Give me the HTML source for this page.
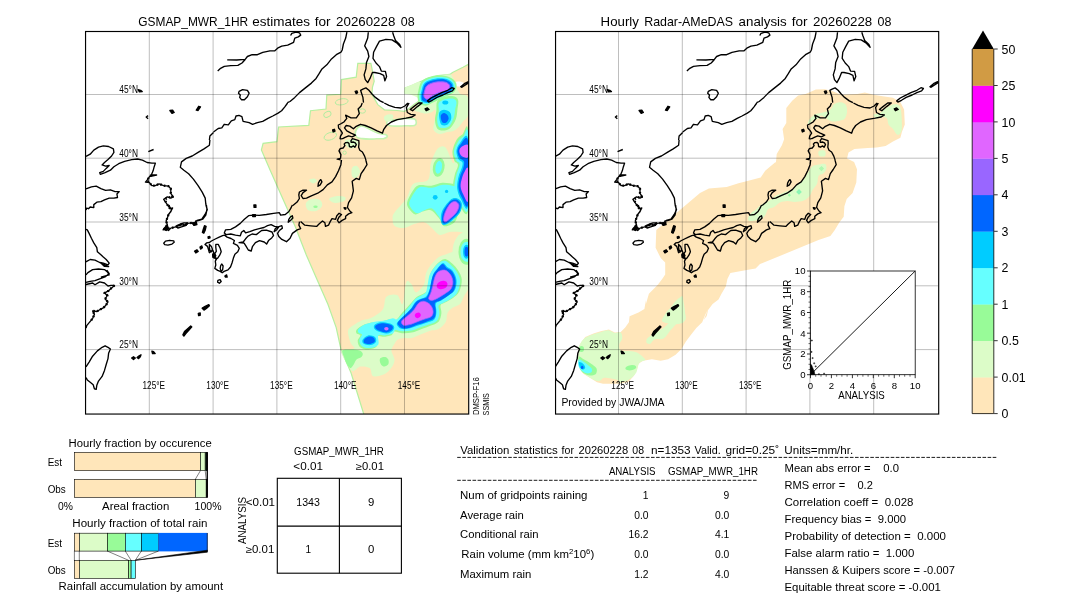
<!DOCTYPE html>
<html><head><meta charset="utf-8"><title>GSMAP validation</title>
<style>html,body{margin:0;padding:0;background:#fff}svg{display:block;will-change:transform}text{font-family:"Liberation Sans",sans-serif}</style></head>
<body>
<svg width="1080" height="612" viewBox="0 0 1080 612">
<rect width="1080" height="612" fill="#fff"/>
<defs><clipPath id="mc"><rect x="85.55" y="31.5" width="383.15" height="382.55"/></clipPath>
<g id="coast"><path d="M217.7 70.9 L220.1 68.7 L224.3 66.3 L230.8 65.6 L237.9 65.4 L242.0 63.0 L245.0 59.7 L247.4 56.5 L252.1 54.7 L257.4 54.7 L262.8 52.3 L269.9 50.8 L274.6 50.9 L277.6 48.2 L281.7 46.2 L287.7 45.2 L293.6 42.3 L294.8 38.1 L298.3 36.9 L300.7 35.1 L299.5 32.8 L296.0 32.2 L291.8 33.4 L290.6 35.5 M227.2 59.8 L236.7 60.0 L245.0 59.4 M341.0 52.1 L336.3 54.7 L331.5 58.9 L326.8 64.8 L322.0 68.9 L319.1 73.7 L316.1 78.4 L311.4 83.1 L305.4 87.9 L299.5 92.6 L294.8 97.4 L290.0 101.5 L287.4 102.7 M239.1 91.4 L242.6 89.7 L247.4 90.3 L249.1 93.2 L247.4 96.8 L244.4 99.7 L241.4 99.7 L239.7 97.4 L240.3 95.0 L238.5 93.2Z M368.3 32.2 L367.7 38.1 L364.7 45.8 L367.7 51.1 L368.9 56.5 L366.5 62.4 L365.9 68.9 L364.1 74.9 L365.3 79.6 L367.7 82.6 L370.0 78.4 L372.4 72.5 L374.8 72.5 L380.1 73.7 L383.7 75.4 L384.9 80.8 L386.6 76.6 L385.4 71.3 L381.3 71.1 L379.5 66.6 L376.0 63.0 L373.0 58.3 L373.6 52.3 L376.6 46.4 L379.5 41.1 L386.0 39.3 L392.0 39.9 L396.7 42.9 L400.9 47.2 L399.7 44.6 L395.5 40.5 L393.7 35.7 L392.6 32.2 M346.9 32.2 L345.7 38.1 L343.4 44.0 L342.2 50.0 L341.0 52.3 M363.5 102.7 L362.9 97.4 L361.7 93.8 L360.6 90.3 L362.9 89.1 L365.9 87.9 L368.9 90.3 L371.8 93.8 L375.4 97.4 L380.1 100.9 L383.7 102.7 M427.5 100.9 L431.1 98.0 L435.8 95.6 L441.7 92.6 L447.7 90.3 L451.8 87.7 L454.2 88.5 L452.4 90.9 L447.7 92.6 L442.9 95.0 L437.0 97.4 L432.3 100.3 L428.7 102.1Z M460.7 86.7 L464.3 83.7 L468.4 81.7 L469.0 82.6 L465.4 84.9 L461.9 87.3Z M362.2 103.0 L361.1 106.0 L358.1 108.9 L359.3 113.7 L356.3 117.8 L351.0 117.8 L345.6 115.2 L346.8 118.4 L343.9 122.0 L341.5 123.4 M384.2 103.0 L388.9 105.4 L394.8 107.4 L400.8 108.0 L404.9 106.0 L407.9 103.0 M410.2 109.5 L413.8 106.6 L418.5 103.0 L422.1 103.0 L417.4 106.6 L412.6 110.7Z M409.1 103.0 L406.4 107.7 L407.3 112.5 L410.8 114.3 L415.2 114.9 L412.0 117.0 L406.1 118.2 L397.2 119.6 L391.3 122.0 L386.5 125.5 L383.6 129.7 L382.4 133.2 L377.1 130.9 L371.1 127.9 L365.2 125.5 L360.5 124.3 L355.7 126.7 L353.4 128.8 L349.8 126.1 L346.2 125.5 L344.5 127.9 L346.8 130.9 L351.0 133.2 L355.5 135.2 L352.2 136.8 L348.6 135.9 L345.1 137.4 L342.7 138.6 L341.5 138.6 M287.6 103.0 L284.6 107.1 L281.6 110.7 L278.1 113.1 L272.8 116.0 L268.0 118.4 L262.7 121.4 L257.4 122.6 L252.6 124.3 L249.1 122.6 L243.1 121.4 L241.9 116.6 L239.0 115.4 L236.0 116.0 L234.8 119.6 L231.3 120.8 L228.3 124.9 L224.2 124.3 L221.8 127.9 L218.2 128.5 L213.5 132.0 M341.5 160.0 L340.9 164.7 L338.5 170.7 L335.6 176.6 L332.0 181.9 L327.3 184.9 L323.1 189.6 L317.8 193.2 L311.9 195.6 L306.5 198.2 L303.0 198.5 L301.2 195.6 L303.0 192.6 L306.5 190.2 L303.0 190.2 L299.4 192.0 L298.8 195.0 L299.4 198.5 L297.1 202.1 L292.9 205.6 M320.8 179.6 L321.9 181.9 L320.2 184.9 L318.0 186.3 L318.4 183.1 L319.6 180.7Z M365.8 160.0 L367.0 164.7 L364.0 169.5 L361.1 173.6 L359.3 179.6 L356.3 178.4 L352.2 181.3 L352.8 186.1 L353.4 190.8 L351.6 197.9 L348.6 202.7 L347.4 207.4 L349.8 211.0 L351.9 212.7 L348.6 213.9 L345.6 216.3 L345.6 218.7 L342.1 220.4 L339.1 222.8 L337.4 220.4 L339.1 216.9 L341.5 214.5 L339.1 213.3 L336.8 215.7 L335.6 219.3 L332.0 218.7 L330.2 221.6 L328.5 225.2 L325.5 226.4 L324.9 222.8 L322.5 221.0 L319.0 224.0 L316.6 226.4 L310.7 225.8 L304.8 225.2 L300.6 221.6 M292.3 215.7 L292.9 218.1 L290.5 220.4 L288.2 222.2 L288.8 219.3 L290.5 216.9Z M341.5 123.5 L338.3 125.0 L338.6 128.0 L340.9 130.6 L342.4 133.1 L340.5 136.1 L340.1 138.7 L341.5 139.1 M340.5 159.8 L337.2 159.2 L340.5 158.3 L340.9 154.6 L339.0 150.9 L340.1 148.7 L343.1 148.0 L344.9 145.7 L344.2 143.9 L345.7 142.6 L347.9 142.4 L349.0 143.5 L349.4 146.5 L351.2 147.2 L353.5 145.9 L354.9 147.2 L356.3 144.6 L355.3 142.8 L353.1 142.0 L351.2 142.4 L350.9 140.9 L352.4 138.7 L354.9 139.4 L358.8 140.6 L359.0 143.5 L358.6 147.2 L359.8 150.2 L362.4 152.0 L364.6 156.1 L366.1 160.6 M292.4 205.0 L290.6 208.6 L288.9 211.5 L285.3 214.5 L280.6 215.1 L279.4 212.7 L273.5 213.3 L266.4 214.5 L259.2 215.4 L253.3 215.1 L248.6 215.7 L244.4 219.2 L240.3 223.4 L235.5 226.9 L230.8 229.3 L225.5 229.9 L224.3 232.9 L226.1 234.6 L230.8 234.0 L235.5 235.2 L240.3 235.8 L241.5 232.3 L243.8 230.5 L245.6 232.9 L249.8 231.7 L254.5 229.9 L259.2 228.7 L264.0 227.5 L267.5 225.7 L271.1 224.6 L274.6 226.3 L278.2 226.9 L281.8 225.7 L282.4 228.1 L279.4 230.5 L277.6 233.4 L278.8 236.4 L281.8 239.4 L286.5 241.7 L290.1 238.2 L292.4 233.4 L297.2 229.9 L300.7 228.7 L298.9 225.1 L299.5 221.6 M239.1 242.7 L243.2 242.0 L245.6 238.8 L248.0 236.1 L252.1 234.0 L256.3 234.6 L259.0 232.5 L261.6 230.5 L266.4 230.2 L272.0 232.0 L273.5 235.6 L271.7 237.9 L268.5 240.6 L266.6 244.1 L264.2 242.0 L259.5 240.6 L255.4 242.7 L252.4 246.7 L251.2 251.0 L248.3 250.0 L246.0 246.2 L244.1 243.2Z M278.8 226.9 L276.8 229.7 L274.1 231.7 L275.2 228.7 L277.4 227.0Z M224.6 235.1 L227.1 237.1 L231.0 238.5 L234.4 240.5 L233.4 243.4 L237.4 245.4 L239.3 248.3 L237.8 251.8 L234.9 254.2 L233.4 258.1 L232.0 263.0 L230.5 267.0 L228.0 269.9 L224.1 271.4 L222.2 272.8 L220.2 271.4 L217.7 270.4 L214.8 268.4 L215.8 265.0 L215.3 261.1 L216.8 258.6 L214.3 257.2 L212.8 255.2 L213.8 252.7 L212.8 250.3 L209.4 252.7 L208.4 249.3 L207.5 246.4 L205.0 244.4 L206.5 242.9 L209.4 242.5 L211.4 241.0 L215.3 239.0 L219.2 237.1 L222.6 235.6Z M215.8 244.4 L218.2 244.4 L220.2 248.3 L221.2 251.8 L219.7 255.2 L217.7 258.1 L215.8 259.1 L214.3 257.2 L214.3 254.2 L216.3 251.3 L215.8 247.4Z M221.7 264.0 L223.1 266.0 L222.6 269.9 L221.2 271.4 L220.2 268.4 L220.7 265.5Z M209.4 244.4 L211.4 246.4 L212.4 249.3 L211.4 251.8 L209.9 250.3 L209.4 247.4Z M205.9 205.0 L207.3 209.7 L205.0 214.5 L201.8 219.2 L197.0 220.4 L195.8 224.0 L193.5 224.6 L191.7 222.8 L190.5 223.4 M86.0 156.4 L90.2 154.2 L93.8 150.1 L98.5 147.1 L103.3 145.9 L108.6 146.5 L113.4 148.9 L113.9 152.4 L111.6 156.0 L108.0 159.6 L104.5 162.5 L102.1 164.9 L105.6 166.1 L109.2 165.5 L106.2 168.4 L103.3 171.4 L99.7 172.6 L100.3 174.4 L105.1 172.6 L110.4 170.2 L113.9 166.7 L118.7 163.7 L124.6 161.3 L131.7 159.6 L137.6 159.0 L142.4 160.1 L147.1 162.5 L151.9 163.1 L155.4 163.1 L154.2 166.7 L153.1 170.8 L151.3 175.0 L156.6 175.0 L149.5 176.7 L147.1 180.3 L145.4 182.1 L149.5 182.7 L151.9 185.6 L155.4 185.6 L159.0 183.9 L163.7 185.6 L168.5 186.2 L170.8 188.6 L170.8 193.3 L173.2 196.9 L170.8 198.1 L167.3 196.9 L163.7 199.3 L166.1 202.8 L168.5 206.4 L171.4 209.3 L170.8 212.1 M148.3 151.6 L153.6 149.5 M209.9 140.0 L209.4 145.3 L204.0 148.9 L198.1 152.4 L192.2 156.0 L186.2 158.4 L181.5 161.9 L180.3 167.3 L183.9 170.2 L188.6 173.8 L193.4 179.1 L198.1 185.6 L202.2 192.1 L205.2 198.1 L205.8 204.0 L207.0 208.7 L206.4 212.1 M86.0 188.8 L91.4 186.8 L96.2 186.2 L100.9 188.6 L105.6 190.4 L110.4 189.8 L115.1 191.6 L119.3 191.6 L116.9 193.9 L117.5 197.5 L113.9 198.1 L109.2 198.1 L104.5 199.9 L100.9 201.6 L96.8 202.2 L93.8 204.6 L93.8 207.6 L90.2 207.0 L88.5 208.7 L86.7 208.1 L86.0 209.9 M169.1 205.0 L170.2 208.6 L172.6 208.0 L170.8 211.5 L168.5 214.5 L167.3 218.0 L166.1 221.0 L167.3 224.6 L164.9 228.7 L163.1 229.9 L166.7 229.3 L168.5 230.5 L170.8 228.1 L175.6 226.9 L180.3 225.1 L185.1 224.6 L187.4 223.4 L192.2 222.8 L195.1 224.6 L195.7 221.0 L199.3 220.4 L202.8 219.2 L205.8 215.1 L207.0 209.7 L206.4 205.0 M176.8 225.7 L180.3 224.0 L183.9 222.8 L187.4 222.8 L186.2 225.4 L181.5 226.9 L177.9 228.1Z M163.7 243.2 L165.5 241.1 L169.6 240.3 L173.8 240.8 L174.2 242.3 L172.0 244.1 L167.9 245.1 L164.7 244.7Z M86.0 229.3 L87.3 229.9 L89.1 233.4 L91.4 238.2 L93.8 242.9 L96.8 247.7 L97.4 251.8 L100.9 254.8 L103.3 257.1 L106.2 259.5 L109.2 263.1 L108.0 264.9 L103.3 263.1 L99.7 262.5 L95.0 260.1 L90.2 259.5 L86.7 261.3 L86.0 261.9 M86.0 274.9 L87.9 272.6 L92.6 269.6 L98.5 269.0 L104.5 269.6 L107.4 272.0 L109.2 274.9 L104.5 276.1 L100.9 277.1 M106.8 270.0 L109.2 273.6 L105.6 276.5 L99.7 278.9 L95.0 280.7 L90.2 281.3 L86.0 282.4 M86.0 284.5 L92.6 283.0 L95.0 284.8 L99.7 281.9 L104.5 283.0 L108.0 286.0 L111.0 285.4 L114.5 285.4 L111.0 288.4 L108.6 290.7 L104.5 293.1 L107.4 295.5 L105.1 299.0 L108.0 302.0 L105.6 305.6 L103.3 307.9 L99.7 309.7 L96.8 311.5 L92.6 310.9 L94.4 314.4 L92.6 318.6 L89.6 322.1 L86.7 325.7 L86.0 328.1 M86.0 366.9 L89.1 362.1 L92.6 356.2 L97.4 350.9 L102.1 347.3 L105.1 345.8 L108.0 347.3 L110.4 349.1 L108.6 353.3 L108.0 358.6 L106.2 364.5 L104.5 370.4 L102.1 376.4 L98.5 381.1 L96.8 385.3 L96.2 389.4 L94.4 388.8 L93.2 384.7 L90.2 382.3 L87.3 379.9 L86.0 377.6 M213.5 132.4 L209.9 136.0 L209.4 140.0 M148.1 115.6 L146.2 117.0 L148.1 118.8 M217.9 280.4 L220.1 279.6 L221.2 281.6 L219.4 283.3 L217.6 282.1Z" fill="none"/><path d="M355.2 91.4 L357.0 90.9 L357.6 92.6 L356.2 93.6Z M425.1 108.9 L427.4 108.0 L429.0 109.5 L426.2 110.7Z M332.6 130.0 L334.4 129.3 L335.0 131.2 L333.2 132.0Z M344.1 207.6 L346.0 208.0 L345.6 209.2 L344.5 208.8Z M332.7 130.2 L334.2 129.4 L334.9 130.6 L333.5 131.7Z M212.8 254.2 L214.8 253.7 L215.8 255.7 L214.3 258.1 L212.8 257.2Z M194.6 251.2 L197.0 249.8 L198.2 251.5 L195.8 253.0Z M200.0 247.1 L201.8 245.9 L202.4 247.7 L200.6 249.1Z M204.5 225.7 L206.1 226.3 L205.3 229.9 L203.8 233.2 L202.4 232.5 L203.3 229.3Z M208.0 236.8 L209.7 236.4 L210.1 237.9 L208.3 238.4Z M253.9 205.0 L255.9 205.0 L255.9 207.4 L254.1 207.4Z M252.7 214.7 L255.4 214.7 L255.4 216.6 L252.7 216.6Z M224.9 276.1 L226.6 274.9 L227.2 277.1 L225.5 277.1Z M163.7 228.7 L167.3 225.1 L168.5 228.7 L166.1 230.5Z M192.8 222.8 L196.3 222.2 L196.9 224.6 L193.9 225.4Z M100.9 263.1 L105.1 264.9 L108.6 266.6 L104.5 266.4Z M202.2 308.2 L205.2 306.4 L208.8 304.6 L209.4 305.8 L206.4 308.5 L204.0 310.1Z M198.3 313.3 L200.2 312.9 L200.2 315.3 L198.6 315.6Z M182.9 334.9 L184.5 331.6 L187.4 328.9 L190.7 325.9 L191.8 326.9 L188.8 330.2 L186.0 333.4 L183.9 336.1Z M131.7 358.0 L133.5 356.8 L135.3 358.0 L133.5 359.5Z M137.1 357.4 L138.8 356.0 L141.0 354.8 L140.3 356.8 L138.6 358.6Z M151.9 351.2 L153.6 351.7 L155.2 353.6 L152.5 353.6Z M138.2 89.7 L140.6 90.3 L142.2 91.5 L139.4 91.9Z M169.9 110.5 L172.6 110.1 L174.2 112.5 L172.0 113.4Z M198.7 106.3 L200.5 106.9 L198.1 110.5 L196.3 110.1Z" fill="#000"/><path d="M114.5 285.4 L111.0 288.4 L108.6 290.7 L104.5 293.1 L107.4 295.5 L105.1 299.0 L108.0 302.0 L105.6 305.6 L103.3 307.9 L99.7 309.7 L96.8 311.5 L92.6 310.9 L94.4 314.4 L92.6 318.6 L89.6 322.1 M168.5 214.5 L167.3 218.0 L166.1 221.0 L167.3 224.6 L164.9 228.7 L166.7 229.3 L170.8 228.1 L175.6 226.9 L180.3 225.1 L185.1 224.6 L187.4 223.4 L192.2 222.8 L195.1 224.0 M151.3 175.0 L149.5 176.7 L147.1 180.3 L149.5 182.7 L151.9 185.6 L155.4 185.6 L159.0 183.9 L163.7 185.6 L168.5 186.2 L170.8 188.6 L170.8 193.3 L172.6 196.9 L168.5 197.5 L164.9 199.3 L166.1 202.8 L168.5 206.4 L170.8 209.9" fill="none" stroke-width="2.3" stroke-dasharray="1.6 2.2"/></g>
</defs>
<g clip-path="url(#mc)">
<path d="M261.4 149.9 L263.1 143.3 L277.0 141.7 L278.6 127.0 L308.8 125.4 L310.5 110.7 L326.0 109.0 L326.8 95.1 L340.7 94.3 L341.5 79.6 L356.2 77.2 L357.8 63.3 L370.9 63.3 L372.5 71.4 L374.2 81.2 L372.5 87.0 L371.9 94.3 L374.8 99.4 L377.8 104.6 L384.4 109.8 L397.0 110.5 L404.4 111.3 L409.0 108.5 L414.0 104.5 L419.0 101.0 L420.0 94.0 L405.2 93.5 L405.2 88.0 L412.0 85.5 L419.0 82.4 L426.7 78.7 L438.1 75.7 L449.9 74.4 L452.5 72.4 L463.0 67.2 L470.0 63.5 L470.0 415.0 L364.0 415.0 L363.5 413.2 L351.0 372.8 L341.0 349.5 L336.2 327.6 L327.9 304.3 L317.0 279.5 L306.2 254.7 L295.3 226.8 L282.9 198.9 L270.5 171.0Z" fill="#ffe6ba" stroke="#b6f0a0" stroke-width="1.2"/>
<path d="M387.8 120.8 C389.3 119.9 393.8 120.0 396.7 119.6 C399.6 119.2 402.0 118.5 405.0 118.4 C408.0 118.3 412.6 118.3 414.5 119.0 C416.4 119.7 416.3 121.5 416.3 122.6 C416.3 123.6 416.4 125.0 414.5 125.5 C412.6 126.1 408.2 125.7 405.0 125.8 C401.8 125.9 398.4 126.2 395.5 126.1 C392.7 126.0 389.1 125.8 387.8 124.9 C386.5 124.0 386.3 121.7 387.8 120.8Z" fill="#fff" stroke="#c4f4b0" stroke-width="1.6"/>
<path d="M357.0 128.5 C357.9 127.2 359.3 126.4 360.6 126.1 C361.8 125.8 363.0 126.1 364.7 126.7 C366.4 127.3 368.7 128.7 370.6 129.7 C372.6 130.7 374.7 131.9 376.6 132.6 C378.4 133.4 380.3 133.7 381.9 134.1 C383.5 134.4 385.1 134.3 386.0 134.8 C386.9 135.2 387.6 136.1 387.2 136.8 C386.8 137.4 385.4 138.2 383.7 138.6 C381.9 138.9 378.9 138.7 376.6 138.8 C374.2 138.9 371.8 139.2 369.4 139.1 C367.1 139.1 364.4 138.9 362.3 138.6 C360.3 138.3 358.2 138.2 357.0 137.4 C355.8 136.6 355.2 135.3 355.2 133.8 C355.2 132.3 356.1 129.8 357.0 128.5Z" fill="#fff" stroke="#c4f4b0" stroke-width="1.6"/>
<path d="M454.5 82.5 C455.2 81.9 457.5 81.5 459.1 81.6 C460.6 81.6 463.0 82.2 463.6 82.9 C464.3 83.6 464.0 85.3 463.0 85.9 C462.0 86.5 459.1 86.5 457.7 86.4 C456.4 86.3 455.4 85.8 454.9 85.1 C454.3 84.4 453.8 83.1 454.5 82.5Z" fill="#fff"/>
<ellipse cx="341.7" cy="101.8" rx="6.5" ry="3" fill="none" stroke="#b0eca0" stroke-width="0.9" transform="rotate(-10 341.7 101.8)"/>
<ellipse cx="327.4" cy="114.4" rx="3.8" ry="2.6" fill="none" stroke="#b0eca0" stroke-width="0.9" transform="rotate(-30 327.4 114.4)"/>
<ellipse cx="330.3" cy="136.2" rx="6.5" ry="3.6" fill="none" stroke="#b0eca0" stroke-width="0.9" transform="rotate(-20 330.3 136.2)"/>
<ellipse cx="362.3" cy="111" rx="3.2" ry="2.2" fill="none" stroke="#b0eca0" stroke-width="0.9" transform="rotate(0 362.3 111)"/>
<ellipse cx="344.6" cy="152.7" rx="1.7" ry="1.7" fill="none" stroke="#b0eca0" stroke-width="0.9" transform="rotate(0 344.6 152.7)"/>
<path d="M384.0 117.0 C384.3 115.8 386.5 114.8 388.0 114.5 C389.5 114.2 392.3 114.1 393.0 115.0 C393.7 115.9 393.2 118.9 392.0 120.0 C390.8 121.1 387.3 122.0 386.0 121.5 C384.7 121.0 383.7 118.2 384.0 117.0Z" fill="#dcfcc8"/>
<path d="M345.0 141.0 C345.5 139.5 349.8 138.8 352.0 139.0 C354.2 139.2 357.3 140.7 358.0 142.0 C358.7 143.3 357.5 146.0 356.0 147.0 C354.5 148.0 350.8 149.0 349.0 148.0 C347.2 147.0 344.5 142.5 345.0 141.0Z" fill="#dcfcc8"/>
<path d="M352.0 168.0 C352.8 166.3 355.7 165.3 357.0 166.0 C358.3 166.7 360.2 170.0 360.0 172.0 C359.8 174.0 357.3 177.3 356.0 178.0 C354.7 178.7 352.7 177.7 352.0 176.0 C351.3 174.3 351.2 169.7 352.0 168.0Z" fill="#dcfcc8"/>
<path d="M404.8 90.7 C406.4 89.6 411.7 87.8 414.6 86.1 C417.5 84.5 419.8 82.3 422.5 80.9 C425.1 79.5 427.7 78.5 430.3 77.6 C432.9 76.8 434.9 76.2 438.1 75.7 C441.4 75.2 447.5 74.4 449.9 74.6 C452.3 74.9 451.8 75.8 452.5 77.0 C453.3 78.1 454.3 80.0 454.5 81.6 C454.7 83.1 453.5 85.1 453.8 86.1 C454.2 87.2 455.3 86.8 456.4 88.1 C457.5 89.4 458.8 92.8 460.4 94.0 C461.9 95.2 464.3 94.4 465.6 95.3 C466.9 96.2 467.8 95.9 468.2 99.2 C468.6 102.5 469.1 111.2 468.2 114.9 C467.3 118.6 464.7 119.3 463.0 121.4 C461.2 123.6 459.5 126.3 457.7 128.0 C456.0 129.6 454.3 130.6 452.5 131.2 C450.8 131.9 449.5 131.5 447.3 131.9 C445.1 132.3 441.7 134.2 439.4 133.9 C437.2 133.5 434.4 131.8 433.6 129.9 C432.7 128.1 433.8 125.3 434.2 122.7 C434.6 120.2 435.7 117.1 435.8 114.9 C435.9 112.7 435.6 110.1 434.9 109.7 C434.2 109.2 433.2 111.6 431.6 112.3 C430.0 112.9 427.0 113.6 425.1 113.6 C423.1 113.6 421.6 112.8 419.8 112.3 C418.1 111.7 415.0 111.6 414.6 110.3 C414.2 109.0 416.5 106.3 417.2 104.4 C418.0 102.6 420.3 100.8 419.2 99.2 C418.1 97.6 413.1 95.7 410.7 94.6 C408.3 93.6 405.8 93.6 404.8 92.9 C403.8 92.3 403.2 91.9 404.8 90.7Z" fill="#dcfcc8"/>
<path d="M405.2 87.5 L412.0 84.5 L419.0 81.5 L425.0 84.0 L423.0 90.0 L420.0 94.5 L405.2 94.0Z" fill="#dcfcc8"/>
<path d="M392.6 218.2 C392.6 215.9 392.3 215.6 394.6 212.4 C396.9 209.1 403.3 203.4 406.4 198.6 C409.5 193.9 409.6 187.0 413.2 183.9 C416.8 180.8 425.0 183.4 427.9 180.0 C430.9 176.6 429.2 168.6 430.9 163.3 C432.5 158.1 435.3 151.2 437.7 148.6 C440.2 146.0 443.0 145.2 445.6 147.6 C448.2 150.1 451.6 163.0 453.4 163.3 C455.2 163.7 455.1 153.2 456.4 149.6 C457.7 146.0 459.2 143.1 461.3 141.8 C463.4 140.5 467.8 126.7 469.1 141.8 C470.4 156.8 470.4 216.9 469.1 232.0 C467.8 247.0 464.5 232.0 461.3 232.0 C458.0 232.0 453.1 231.5 449.5 232.0 C445.9 232.5 442.6 235.6 439.7 234.9 C436.8 234.2 434.5 230.2 431.9 228.0 C429.2 225.9 427.0 222.8 424.0 222.2 C421.1 221.5 417.5 223.1 414.2 224.1 C410.9 225.1 407.7 227.7 404.4 228.0 C401.1 228.4 396.6 227.7 394.6 226.1 C392.6 224.4 392.6 220.5 392.6 218.2Z" fill="#dcfcc8"/>
<path d="M348.6 329.1 C349.8 327.0 353.4 325.2 355.8 323.7 C358.2 322.2 360.3 321.2 363.0 320.1 C365.7 319.1 368.7 319.2 372.0 317.4 C375.3 315.6 380.4 312.8 382.8 309.4 C385.2 305.9 384.0 299.2 386.4 296.8 C388.8 294.4 394.5 293.8 397.2 295.0 C399.9 296.2 401.1 306.1 402.6 304.0 C404.1 301.9 404.7 285.7 406.2 282.4 C407.6 279.1 409.9 282.5 411.5 284.2 C413.2 285.8 413.9 292.3 416.0 292.3 C418.1 292.3 422.5 287.3 424.1 284.2 C425.8 281.0 424.7 276.7 425.9 273.4 C427.1 270.1 429.2 267.1 431.3 264.4 C433.4 261.7 436.1 258.8 438.5 257.2 C440.9 255.5 443.3 255.4 445.7 254.5 C448.1 253.6 450.5 252.5 452.9 251.8 C455.3 251.0 457.7 249.7 460.1 250.0 C462.5 250.3 465.8 250.9 467.3 253.6 C468.8 256.3 468.8 260.8 469.1 266.2 C469.4 271.6 470.0 280.9 469.1 286.0 C468.2 291.1 465.2 293.8 463.7 296.8 C462.2 299.8 461.9 302.2 460.1 304.0 C458.3 305.8 455.0 306.1 452.9 307.6 C450.8 309.1 448.7 310.6 447.5 312.9 C446.3 315.3 447.2 319.2 445.7 321.9 C444.2 324.6 441.2 327.6 438.5 329.1 C435.8 330.6 432.5 330.0 429.5 330.9 C426.5 331.8 423.5 333.3 420.5 334.5 C417.5 335.7 414.2 337.5 411.5 338.1 C408.8 338.7 406.8 337.8 404.4 338.1 C402.0 338.4 399.3 338.4 397.2 339.9 C395.1 341.4 394.5 345.3 391.8 347.1 C389.1 348.9 384.3 349.8 381.0 350.7 C377.7 351.6 375.3 352.5 372.0 352.5 C368.7 352.5 364.5 351.9 361.2 350.7 C357.9 349.5 354.3 347.7 352.2 345.3 C350.1 342.9 349.2 339.0 348.6 336.3 C348.0 333.6 347.4 331.2 348.6 329.1Z" fill="#dcfcc8"/>
<ellipse cx="466.5" cy="251.8" rx="14.0" ry="20.0" fill="#dcfcc8" transform="rotate(0 466.5 251.8)"/>
<path d="M357.3 326.2 C359.5 326.2 363.0 334.8 366.6 337.1 C370.2 339.4 375.1 339.9 379.0 340.2 C382.9 340.4 387.5 337.9 389.9 338.6 C392.2 339.4 392.7 342.8 393.0 344.8 C393.2 346.9 391.2 348.5 391.4 351.1 C391.7 353.6 394.8 357.3 394.5 360.4 C394.3 363.5 391.9 367.2 389.9 369.7 C387.8 372.1 385.0 374.1 382.1 375.1 C379.3 376.2 374.9 377.1 372.8 375.9 C370.7 374.7 371.8 369.7 369.7 368.1 C367.6 366.6 363.1 366.1 360.4 366.6 C357.7 367.1 355.2 371.0 353.4 371.2 C351.6 371.5 351.2 370.5 349.5 368.1 C347.8 365.8 344.6 360.2 343.3 357.3 C342.0 354.3 340.1 351.7 341.7 350.3 C343.4 348.9 350.9 349.9 353.4 348.7 C355.8 347.6 356.5 345.2 356.5 343.3 C356.5 341.4 353.3 339.9 353.4 337.1 C353.5 334.2 355.1 326.2 357.3 326.2Z" fill="#dcfcc8"/>
<path d="M306.0 203.0 C306.7 201.2 309.7 199.5 312.0 199.0 C314.3 198.5 318.3 198.8 320.0 200.0 C321.7 201.2 322.7 204.2 322.0 206.0 C321.3 207.8 318.3 210.3 316.0 211.0 C313.7 211.7 309.7 211.3 308.0 210.0 C306.3 208.7 305.3 204.8 306.0 203.0Z" fill="#dcfcc8"/>
<path d="M329.0 199.0 C329.3 197.8 334.3 196.3 337.0 196.0 C339.7 195.7 343.8 196.2 345.0 197.0 C346.2 197.8 345.7 200.0 344.0 201.0 C342.3 202.0 337.5 203.3 335.0 203.0 C332.5 202.7 328.7 200.2 329.0 199.0Z" fill="#dcfcc8"/>
<path d="M309.0 180.0 C309.2 179.2 312.7 178.3 314.0 178.5 C315.3 178.7 317.2 180.2 317.0 181.0 C316.8 181.8 314.3 183.7 313.0 183.5 C311.7 183.3 308.8 180.8 309.0 180.0Z" fill="#dcfcc8"/>
<path d="M418.3 91.0 C419.1 88.2 419.5 83.2 422.4 80.6 C425.2 78.0 431.0 76.2 435.5 75.5 C439.9 74.9 445.6 75.6 449.1 76.9 C452.6 78.2 455.4 80.9 456.3 83.4 C457.1 85.9 456.4 89.5 454.2 91.9 C452.1 94.2 446.8 95.7 443.3 97.5 C439.8 99.3 435.9 101.2 433.0 102.6 C430.1 104.0 428.4 105.5 426.1 105.7 C423.8 105.8 420.7 104.6 419.3 103.3 C417.9 101.9 417.8 99.6 417.6 97.5 C417.5 95.5 417.5 93.8 418.3 91.0Z" fill="#98fb98"/>
<path d="M437.2 101.2 C438.6 98.9 441.6 97.6 444.4 96.7 C447.1 95.9 451.2 95.7 453.5 96.3 C455.8 96.8 457.5 97.9 458.1 100.0 C458.8 102.1 457.9 105.7 457.5 108.9 C457.1 112.0 457.1 115.7 455.9 118.9 C454.8 122.0 452.5 125.8 450.6 127.8 C448.6 129.7 446.6 130.3 444.4 130.5 C442.2 130.6 439.2 130.6 437.6 128.9 C436.0 127.2 435.2 123.3 435.0 120.2 C434.8 117.1 436.0 113.6 436.4 110.4 C436.7 107.3 435.9 103.5 437.2 101.2Z" fill="#98fb98"/>
<path d="M452.5 151.0 C452.9 147.6 455.0 142.5 456.6 139.8 C458.3 137.0 460.5 136.0 462.4 134.6 C464.3 133.2 467.2 118.8 468.2 131.4 C469.1 144.0 469.8 198.1 468.2 209.9 C466.5 221.8 460.8 206.0 458.2 202.6 C455.7 199.2 453.6 194.1 453.0 189.5 C452.4 185.0 453.8 179.2 454.6 175.4 C455.3 171.6 457.2 168.8 457.7 166.8 C458.2 164.7 458.0 164.4 457.4 163.4 C456.9 162.3 455.1 162.8 454.3 160.7 C453.5 158.7 452.1 154.5 452.5 151.0Z" fill="#98fb98"/>
<path d="M407.1 202.6 C407.6 199.7 410.3 194.7 412.2 191.8 C414.1 189.0 415.4 186.3 418.5 185.3 C421.7 184.3 427.3 186.1 431.3 185.7 C435.3 185.3 438.4 183.0 442.4 182.8 C446.3 182.6 451.6 183.6 455.0 184.4 C458.5 185.2 461.7 185.5 463.2 187.8 C464.8 190.1 465.1 194.8 464.4 198.3 C463.8 201.9 461.0 205.1 459.5 209.0 C457.9 212.9 457.5 218.9 455.0 221.8 C452.5 224.6 447.0 226.7 444.4 226.2 C441.7 225.6 441.5 221.1 439.2 218.4 C436.9 215.8 433.5 211.4 430.7 210.3 C427.9 209.2 424.8 210.9 422.2 211.6 C419.6 212.3 417.4 214.9 415.3 214.5 C413.1 214.0 410.5 210.9 409.1 209.0 C407.8 207.0 406.6 205.4 407.1 202.6Z" fill="#98fb98"/>
<ellipse cx="438.7" cy="167.3" rx="5.8" ry="9.5" fill="#98fb98" transform="rotate(10 438.7 167.3)"/>
<path d="M356.6 329.8 C357.6 328.4 360.3 326.4 362.9 325.2 C365.4 324.0 368.6 323.2 371.9 322.5 C375.2 321.9 379.5 321.8 382.7 321.2 C385.9 320.6 388.7 319.3 390.8 319.1 C393.0 319.0 393.6 321.5 395.5 320.4 C397.4 319.2 399.8 315.3 402.4 312.4 C405.0 309.5 408.6 305.5 411.1 302.9 C413.5 300.3 414.9 298.4 417.0 296.8 C419.1 295.2 421.9 294.4 423.6 293.4 C425.3 292.4 426.4 292.6 427.3 290.8 C428.1 289.0 428.3 285.4 428.9 282.5 C429.4 279.6 429.5 276.1 430.5 273.4 C431.5 270.7 433.4 268.3 435.0 266.2 C436.7 264.2 438.7 262.1 440.5 260.9 C442.3 259.7 444.0 258.7 446.0 259.2 C448.0 259.6 450.5 262.0 452.5 263.8 C454.5 265.7 456.5 267.7 458.0 270.3 C459.6 272.9 461.6 276.0 461.8 279.5 C462.0 283.1 460.7 288.5 459.3 291.5 C457.8 294.6 455.4 296.1 453.0 298.0 C450.6 299.8 447.1 301.4 445.0 302.6 C442.9 303.8 441.1 303.6 440.5 305.4 C439.9 307.1 441.7 310.4 441.4 313.1 C441.1 315.8 440.5 319.6 438.6 321.7 C436.7 323.8 433.1 324.6 430.3 325.8 C427.4 327.0 424.8 327.9 421.7 329.0 C418.6 330.1 415.1 331.9 411.8 332.6 C408.5 333.3 404.8 333.3 401.9 333.2 C399.0 333.0 395.9 331.3 394.2 331.6 C392.4 332.0 393.3 334.4 391.5 335.2 C389.6 336.1 385.6 336.6 383.1 336.8 C380.7 337.1 377.7 335.2 376.7 336.7 C375.7 338.2 378.2 343.8 376.9 345.9 C375.6 348.0 371.5 349.1 368.7 349.4 C366.0 349.6 362.3 348.8 360.5 347.4 C358.6 346.0 357.7 342.9 357.7 340.9 C357.6 338.9 360.5 336.7 360.3 335.4 C360.1 334.2 357.3 334.5 356.6 333.5 C356.0 332.6 355.6 331.2 356.6 329.8Z" fill="#98fb98"/>
<ellipse cx="466.5" cy="251.8" rx="8.0" ry="13.0" fill="#98fb98" transform="rotate(0 466.5 251.8)"/>
<path d="M342.5 350.3 C343.7 349.0 348.3 349.5 351.1 349.5 C353.8 349.5 356.9 349.6 358.8 350.3 C360.8 350.9 362.3 352.2 362.7 353.4 C363.1 354.5 362.2 356.2 361.1 357.3 C360.1 358.3 357.8 358.3 356.5 359.6 C355.2 360.9 354.4 363.6 353.4 365.0 C352.3 366.5 351.4 368.4 350.3 368.1 C349.1 367.9 347.4 365.3 346.4 363.5 C345.4 361.7 344.7 359.5 344.1 357.3 C343.4 355.1 341.4 351.6 342.5 350.3Z" fill="#98fb98"/>
<path d="M380.6 358.0 C381.5 357.3 383.9 356.7 385.2 357.0 C386.5 357.2 387.8 358.4 388.3 359.6 C388.8 360.8 389.0 363.1 388.3 364.3 C387.7 365.4 385.6 366.5 384.4 366.6 C383.3 366.7 382.1 365.9 381.3 365.0 C380.6 364.1 379.9 362.3 379.8 361.1 C379.7 360.0 379.7 358.7 380.6 358.0Z" fill="#98fb98"/>
<ellipse cx="315.5" cy="206.7" rx="2.2" ry="1.3" fill="#98fb98" transform="rotate(0 315.5 206.7)"/>
<path d="M420.1 91.0 C420.8 88.5 421.2 84.1 423.7 81.8 C426.2 79.5 431.3 78.0 435.3 77.3 C439.3 76.7 444.6 77.0 447.8 78.1 C451.0 79.2 453.8 81.7 454.6 84.0 C455.4 86.2 454.6 89.7 452.4 91.8 C450.3 93.9 445.0 95.0 441.8 96.5 C438.6 98.0 435.7 99.5 433.2 100.8 C430.7 102.1 429.1 103.9 427.0 104.1 C424.9 104.3 422.0 103.4 420.7 102.2 C419.4 101.0 419.4 98.7 419.3 96.9 C419.2 95.0 419.4 93.5 420.1 91.0Z" fill="#66ffff"/>
<path d="M438.8 103.1 C439.8 101.2 442.4 100.0 444.7 99.2 C447.0 98.5 450.6 98.1 452.5 98.6 C454.5 99.0 456.0 100.0 456.4 101.8 C456.9 103.7 455.6 107.1 455.1 109.7 C454.7 112.3 454.7 114.9 453.8 117.5 C453.0 120.1 451.4 123.6 449.9 125.4 C448.4 127.1 446.5 127.8 444.7 128.0 C442.8 128.2 440.1 128.2 438.8 126.7 C437.5 125.1 437.1 121.4 437.1 118.8 C437.1 116.2 438.5 113.6 438.8 111.0 C439.1 108.4 437.8 105.1 438.8 103.1Z" fill="#66ffff"/>
<path d="M454.0 151.0 C454.4 147.9 456.7 143.8 458.2 141.4 C459.7 139.0 461.5 137.9 463.2 136.6 C464.9 135.4 467.3 122.2 468.2 134.0 C469.0 145.9 469.7 196.7 468.2 207.9 C466.7 219.0 461.5 203.9 459.3 200.8 C457.0 197.6 455.1 193.2 454.6 189.0 C454.0 184.9 455.3 179.6 456.1 175.9 C456.9 172.2 458.7 168.9 459.3 166.8 C459.8 164.6 459.8 163.9 459.3 162.8 C458.7 161.7 457.0 162.2 456.1 160.2 C455.3 158.2 453.7 154.2 454.0 151.0Z" fill="#66ffff"/>
<path d="M409.3 202.5 C409.8 199.9 412.4 195.4 414.2 192.7 C416.0 190.1 417.2 187.7 420.1 186.9 C423.0 186.0 428.3 188.2 431.9 187.8 C435.5 187.5 438.1 185.2 441.7 184.9 C445.3 184.6 450.2 185.2 453.4 185.9 C456.7 186.5 459.8 186.7 461.3 188.8 C462.7 190.9 462.9 195.4 462.3 198.6 C461.6 201.9 458.8 204.8 457.4 208.4 C455.9 212.0 455.7 217.6 453.4 220.2 C451.1 222.8 446.1 224.8 443.6 224.1 C441.2 223.5 440.7 218.9 438.7 216.3 C436.8 213.7 434.3 209.4 431.9 208.4 C429.4 207.5 426.5 209.6 424.0 210.4 C421.6 211.2 419.3 213.7 417.2 213.3 C415.0 213.0 412.6 210.2 411.3 208.4 C410.0 206.6 408.8 205.2 409.3 202.5Z" fill="#66ffff"/>
<ellipse cx="438.7" cy="167.3" rx="3.3" ry="6.5" fill="#66ffff" transform="rotate(10 438.7 167.3)"/>
<path d="M358.5 329.1 C359.5 327.8 362.2 325.8 364.8 324.6 C367.3 323.4 370.5 322.6 373.8 321.9 C377.1 321.3 381.4 321.1 384.6 320.5 C387.7 319.9 390.6 318.6 392.7 318.3 C394.8 318.1 395.2 320.3 397.2 319.2 C399.1 318.2 402.1 314.4 404.4 312.1 C406.6 309.7 408.7 307.1 410.6 304.9 C412.6 302.6 414.1 300.2 416.0 298.6 C418.0 296.9 420.7 296.0 422.3 295.0 C424.0 293.9 425.0 294.1 425.9 292.3 C426.8 290.5 427.1 287.0 427.7 284.2 C428.3 281.3 428.5 277.9 429.5 275.2 C430.6 272.5 432.4 270.1 434.0 268.0 C435.7 265.9 437.6 263.8 439.4 262.6 C441.2 261.4 442.9 260.3 444.8 260.8 C446.8 261.2 449.2 263.5 451.1 265.3 C453.1 267.1 455.0 269.0 456.5 271.6 C458.0 274.1 460.0 277.1 460.1 280.6 C460.3 284.0 458.9 289.3 457.4 292.3 C455.9 295.3 453.5 296.8 451.1 298.6 C448.7 300.4 445.1 301.9 443.0 303.1 C440.9 304.3 439.1 304.1 438.5 305.8 C437.9 307.4 439.7 310.4 439.4 312.9 C439.1 315.5 438.5 319.1 436.7 321.0 C434.9 323.0 431.3 323.6 428.6 324.6 C425.9 325.7 423.4 326.3 420.5 327.3 C417.7 328.3 414.5 329.9 411.5 330.6 C408.5 331.2 405.3 331.4 402.6 331.3 C399.9 331.2 397.0 329.6 395.4 330.0 C393.7 330.4 394.5 332.7 392.7 333.6 C390.9 334.5 387.0 335.1 384.6 335.4 C382.2 335.7 379.3 333.9 378.3 335.4 C377.2 336.9 379.6 342.3 378.3 344.4 C376.9 346.5 372.9 347.7 370.2 348.0 C367.5 348.3 363.9 347.6 362.1 346.2 C360.3 344.9 359.4 341.9 359.4 339.9 C359.4 338.0 362.2 335.7 362.1 334.5 C361.9 333.3 359.1 333.6 358.5 332.7 C357.9 331.8 357.4 330.5 358.5 329.1Z" fill="#66ffff"/>
<ellipse cx="466.5" cy="251.8" rx="6.0" ry="10.0" fill="#66ffff" transform="rotate(0 466.5 251.8)"/>
<path d="M421.5 91.0 C422.2 88.8 422.5 84.8 424.8 82.7 C427.0 80.7 431.5 79.3 435.2 78.7 C438.9 78.1 443.8 78.2 446.8 79.1 C449.8 80.1 452.5 82.3 453.3 84.4 C454.0 86.5 453.1 89.9 451.0 91.7 C448.9 93.6 443.6 94.4 440.7 95.7 C437.7 96.9 435.5 98.2 433.4 99.4 C431.2 100.6 429.6 102.6 427.7 102.9 C425.7 103.2 423.0 102.4 421.8 101.3 C420.6 100.2 420.7 98.1 420.6 96.4 C420.6 94.7 420.8 93.3 421.5 91.0Z" fill="#00ccff"/>
<path d="M439.4 112.3 C440.2 110.8 442.3 109.7 444.0 109.7 C445.8 109.7 448.7 110.8 449.9 112.3 C451.1 113.8 451.6 116.8 451.2 118.8 C450.8 120.9 448.9 123.7 447.3 124.7 C445.7 125.7 442.7 125.7 441.4 124.7 C440.1 123.7 439.8 120.9 439.4 118.8 C439.1 116.8 438.7 113.8 439.4 112.3Z" fill="#00ccff"/>
<ellipse cx="445.3" cy="102.5" rx="3.0" ry="2.0" fill="#00ccff" transform="rotate(0 445.3 102.5)"/>
<path d="M456.4 151.0 C456.6 148.4 457.8 145.1 459.8 143.2 C461.8 141.3 466.8 129.5 468.2 139.8 C469.6 150.1 469.4 195.4 468.2 205.2 C466.9 215.1 462.7 201.7 460.8 199.0 C459.0 196.2 457.6 192.2 457.2 188.5 C456.8 184.8 457.7 180.2 458.5 176.7 C459.3 173.2 461.2 169.9 461.9 167.5 C462.5 165.1 463.0 163.7 462.4 162.3 C461.8 160.9 459.5 161.0 458.5 159.2 C457.5 157.3 456.2 153.7 456.4 151.0Z" fill="#00ccff"/>
<path d="M441.1 221.8 C440.8 219.5 440.5 214.8 442.0 211.2 C443.5 207.5 447.9 202.1 450.3 199.9 C452.8 197.8 455.0 197.7 456.9 198.3 C458.8 198.9 461.3 200.9 461.8 203.3 C462.3 205.7 461.9 209.7 459.9 212.8 C458.0 215.9 453.0 219.8 450.3 221.8 C447.6 223.9 445.5 225.0 443.9 225.0 C442.4 225.0 441.5 224.1 441.1 221.8Z" fill="#00ccff"/>
<ellipse cx="435.2" cy="197.3" rx="2.4" ry="2.4" fill="#00ccff" transform="rotate(0 435.2 197.3)"/>
<ellipse cx="446.6" cy="191.4" rx="1.6" ry="1.6" fill="#00ccff" transform="rotate(0 446.6 191.4)"/>
<path d="M397.2 322.6 C398.3 320.8 402.1 317.6 404.3 315.3 C406.6 313.1 408.7 311.3 410.6 309.0 C412.5 306.6 413.9 303.2 415.9 301.4 C417.8 299.6 420.4 299.2 422.2 298.3 C423.9 297.5 425.0 297.7 426.2 296.2 C427.5 294.7 428.8 291.7 429.7 289.4 C430.5 287.0 430.5 284.7 431.1 282.2 C431.8 279.6 432.2 276.5 433.3 274.1 C434.5 271.7 436.3 269.7 437.9 267.8 C439.6 266.0 441.5 263.1 443.1 263.0 C444.6 262.9 445.6 265.7 447.2 267.0 C448.8 268.3 451.2 268.6 452.7 270.7 C454.3 272.9 456.2 276.7 456.5 279.9 C456.9 283.2 456.2 287.5 454.8 290.1 C453.5 292.7 450.8 293.9 448.6 295.6 C446.4 297.4 443.5 299.1 441.4 300.4 C439.3 301.7 436.7 301.6 435.9 303.6 C435.1 305.5 436.7 309.4 436.4 312.1 C436.2 314.7 436.1 317.6 434.3 319.4 C432.6 321.2 428.6 322.0 425.8 323.0 C423.0 324.1 420.2 324.7 417.4 325.7 C414.6 326.6 411.7 328.0 409.1 328.6 C406.5 329.2 403.7 329.4 401.8 329.1 C399.9 328.7 398.5 327.3 397.8 326.3 C397.0 325.2 396.1 324.4 397.2 322.6Z" fill="#00ccff"/>
<path d="M374.3 325.2 C375.2 324.1 377.8 322.6 380.2 322.3 C382.7 322.0 386.9 322.6 389.2 323.3 C391.4 323.9 393.3 325.1 393.9 326.3 C394.6 327.4 394.2 329.2 393.0 330.4 C391.8 331.6 389.3 333.3 387.0 333.5 C384.6 333.8 381.1 332.5 379.1 331.8 C377.0 331.0 375.4 330.0 374.6 329.0 C373.9 327.9 373.4 326.3 374.3 325.2Z" fill="#00ccff"/>
<path d="M362.6 339.8 C363.3 338.4 366.0 335.9 368.1 335.4 C370.1 335.0 373.6 336.0 374.9 337.1 C376.2 338.2 376.7 340.7 375.9 342.0 C375.2 343.4 372.6 344.8 370.5 345.1 C368.5 345.4 365.0 344.7 363.7 343.8 C362.3 342.9 361.9 341.2 362.6 339.8Z" fill="#00ccff"/>
<ellipse cx="466.5" cy="251.8" rx="3.5" ry="7.0" fill="#00ccff" transform="rotate(0 466.5 251.8)"/>
<path d="M422.7 91.0 C423.4 89.0 423.6 85.4 425.7 83.5 C427.7 81.7 431.8 80.5 435.1 79.9 C438.5 79.3 443.1 79.1 445.9 79.9 C448.7 80.8 451.5 82.9 452.1 84.8 C452.8 86.8 451.9 90.0 449.8 91.7 C447.8 93.4 442.4 93.9 439.7 95.0 C437.0 96.1 435.4 97.1 433.5 98.2 C431.6 99.4 430.1 101.4 428.3 101.8 C426.5 102.2 423.8 101.5 422.7 100.5 C421.6 99.5 421.7 97.5 421.7 95.9 C421.7 94.4 422.1 93.1 422.7 91.0Z" fill="#0066ff"/>
<path d="M440.8 115.6 C441.1 114.0 442.9 113.1 444.0 112.9 C445.1 112.8 446.5 113.9 447.3 114.9 C448.1 115.9 448.8 117.5 448.6 118.8 C448.4 120.1 447.1 122.2 446.0 122.7 C444.9 123.3 442.9 123.3 442.1 122.1 C441.2 120.9 440.4 117.1 440.8 115.6Z" fill="#0066ff"/>
<path d="M457.4 151.0 C457.6 148.8 458.8 146.0 460.6 144.5 C462.4 143.0 466.9 132.1 468.2 141.9 C469.4 151.7 469.2 194.2 468.2 203.4 C467.1 212.7 463.5 200.0 461.9 197.4 C460.3 194.8 458.8 191.1 458.5 187.7 C458.1 184.3 459.0 180.4 459.8 177.2 C460.6 174.0 462.5 171.2 463.2 168.6 C463.9 166.0 464.5 163.3 464.0 161.5 C463.4 159.8 460.9 159.9 459.8 158.1 C458.7 156.4 457.3 153.3 457.4 151.0Z" fill="#0066ff"/>
<path d="M442.1 220.8 C441.9 218.7 442.0 214.5 443.4 211.2 C444.8 208.0 448.3 203.3 450.4 201.3 C452.6 199.4 454.6 199.1 456.3 199.6 C458.0 200.0 460.3 202.0 460.7 204.2 C461.0 206.3 460.3 209.9 458.6 212.6 C456.8 215.3 452.7 218.6 450.4 220.4 C448.1 222.3 446.0 223.7 444.6 223.7 C443.2 223.8 442.3 222.9 442.1 220.8Z" fill="#0066ff"/>
<path d="M398.1 321.9 C399.2 320.1 403.0 317.0 405.3 314.7 C407.5 312.5 409.6 310.7 411.5 308.5 C413.5 306.2 415.0 302.9 416.9 301.3 C418.9 299.6 421.6 299.3 423.2 298.6 C424.9 297.9 425.8 298.5 426.8 297.1 C427.9 295.8 428.8 292.8 429.5 290.5 C430.2 288.2 430.4 285.8 431.0 283.3 C431.6 280.7 432.0 277.6 433.1 275.2 C434.2 272.8 436.0 270.7 437.6 268.9 C439.2 267.0 441.2 264.2 442.7 264.0 C444.2 263.9 445.1 266.7 446.6 268.0 C448.2 269.2 450.5 269.5 452.0 271.6 C453.5 273.7 455.3 277.4 455.6 280.6 C455.9 283.7 455.2 287.9 453.8 290.5 C452.5 293.0 449.8 294.2 447.5 295.9 C445.3 297.5 442.4 299.2 440.3 300.4 C438.2 301.6 435.7 301.3 434.9 303.1 C434.2 304.9 436.0 308.6 435.8 311.2 C435.7 313.7 435.7 316.5 434.0 318.3 C432.4 320.1 428.6 320.9 425.9 321.9 C423.2 323.0 420.5 323.7 417.8 324.6 C415.1 325.6 412.3 327.1 409.7 327.7 C407.2 328.3 404.4 328.6 402.6 328.2 C400.7 327.9 399.3 326.6 398.6 325.5 C397.8 324.5 396.9 323.7 398.1 321.9Z" fill="#0066ff"/>
<path d="M375.6 325.5 C376.4 324.6 378.9 323.6 381.0 323.4 C383.1 323.1 386.2 323.6 388.2 324.1 C390.1 324.6 392.1 325.4 392.7 326.4 C393.3 327.4 392.8 329.0 391.8 330.0 C390.7 331.0 388.3 332.2 386.4 332.4 C384.4 332.5 381.8 331.5 380.1 330.9 C378.3 330.3 376.7 329.7 375.9 328.8 C375.2 327.9 374.7 326.4 375.6 325.5Z" fill="#0066ff"/>
<path d="M363.9 339.9 C364.5 338.8 366.7 337.1 368.4 336.7 C370.0 336.3 372.7 336.9 373.8 337.8 C374.8 338.6 375.3 340.7 374.7 341.7 C374.1 342.7 371.8 343.6 370.2 343.9 C368.5 344.1 365.8 343.8 364.8 343.2 C363.7 342.5 363.3 341.0 363.9 339.9Z" fill="#0066ff"/>
<ellipse cx="466.5" cy="251.8" rx="2.0" ry="5.0" fill="#0066ff" transform="rotate(0 466.5 251.8)"/>
<path d="M424.7 91.0 C425.2 89.2 425.5 87.0 427.3 85.5 C429.1 84.0 432.5 82.8 435.5 82.2 C438.5 81.7 442.9 81.7 445.3 82.2 C447.6 82.8 449.1 84.2 449.5 85.5 C449.9 86.8 449.3 88.9 447.5 90.1 C445.8 91.3 441.3 91.7 438.7 92.7 C436.2 93.7 434.1 94.9 432.2 95.9 C430.3 97.0 428.6 99.1 427.3 99.2 C425.9 99.3 424.5 98.0 424.0 96.6 C423.6 95.2 424.1 92.9 424.7 91.0Z" fill="#e066ff" stroke="#9966ff" stroke-width="1"/>
<path d="M459.3 151.0 C459.3 149.4 460.4 147.6 461.9 146.6 C463.4 145.6 467.1 143.3 468.2 145.0 C469.2 146.8 469.2 155.2 468.2 157.1 C467.1 158.9 463.4 157.3 461.9 156.3 C460.4 155.3 459.3 152.7 459.3 151.0Z" fill="#e066ff"/>
<path d="M461.9 178.5 C462.5 176.1 463.5 173.5 464.5 172.0 C465.5 170.5 467.6 164.6 468.2 169.4 C468.8 174.2 469.0 196.6 468.2 200.8 C467.3 204.9 464.5 196.6 463.2 194.2 C461.9 191.8 460.8 189.0 460.6 186.4 C460.4 183.8 461.2 180.9 461.9 178.5Z" fill="#e066ff"/>
<path d="M443.6 219.2 C443.6 217.5 444.4 214.0 445.6 211.4 C446.7 208.8 448.9 205.2 450.5 203.5 C452.1 201.9 454.0 201.2 455.4 201.6 C456.8 201.9 458.8 203.7 458.9 205.5 C459.1 207.3 457.8 210.2 456.4 212.4 C455.0 214.5 452.3 216.7 450.5 218.2 C448.7 219.8 446.7 221.6 445.6 221.8 C444.4 221.9 443.6 220.9 443.6 219.2Z" fill="#e066ff" stroke="#9966ff" stroke-width="0.8"/>
<path d="M434.9 277.0 C435.8 274.9 436.9 272.7 438.5 271.6 C440.2 270.4 442.9 269.7 444.8 270.1 C446.8 270.6 448.9 272.4 450.2 274.3 C451.6 276.2 452.8 279.1 452.9 281.5 C453.1 283.9 452.3 286.7 451.1 288.7 C449.9 290.6 447.8 291.7 445.7 293.2 C443.6 294.7 440.8 296.5 438.5 297.7 C436.3 298.9 433.9 300.2 432.2 300.4 C430.6 300.5 428.8 300.1 428.6 298.6 C428.5 297.1 430.6 293.8 431.3 291.4 C432.1 289.0 432.5 286.6 433.1 284.2 C433.7 281.8 434.0 279.1 434.9 277.0Z" fill="#e066ff" stroke="#9966ff" stroke-width="0.7"/>
<path d="M401.7 321.0 C402.4 319.5 405.9 317.6 407.9 315.6 C410.0 313.7 412.4 311.5 414.2 309.4 C416.0 307.3 417.1 304.4 418.7 303.1 C420.4 301.7 422.2 301.0 424.1 301.3 C426.1 301.6 428.9 303.2 430.4 304.9 C431.9 306.5 433.0 309.2 433.1 311.2 C433.3 313.1 432.8 315.2 431.3 316.5 C429.8 317.9 426.5 318.3 424.1 319.2 C421.7 320.1 419.3 321.0 416.9 321.9 C414.5 322.8 412.0 324.1 409.7 324.6 C407.5 325.2 404.8 325.8 403.5 325.2 C402.1 324.6 400.9 322.6 401.7 321.0Z" fill="#e066ff" stroke="#9966ff" stroke-width="0.7"/>
<ellipse cx="386.4" cy="328.8" rx="2.2" ry="1.8" fill="#e066ff" transform="rotate(0 386.4 328.8)"/>
<ellipse cx="442.1" cy="285.1" rx="5.6" ry="4.0" fill="#ff00ff" transform="rotate(-20 442.1 285.1)"/>
<ellipse cx="417.8" cy="315.3" rx="3.0" ry="2.6" fill="#ff00ff" transform="rotate(-30 417.8 315.3)"/>
<g stroke="#000" stroke-opacity="0.32" stroke-width="0.8" fill="none"><line x1="149.3" y1="31.5" x2="149.3" y2="414.05"/><line x1="213.1" y1="31.5" x2="213.1" y2="414.05"/><line x1="276.9" y1="31.5" x2="276.9" y2="414.05"/><line x1="340.7" y1="31.5" x2="340.7" y2="414.05"/><line x1="404.5" y1="31.5" x2="404.5" y2="414.05"/><line x1="85.55" y1="94.5" x2="468.7" y2="94.5"/><line x1="85.55" y1="158.2" x2="468.7" y2="158.2"/><line x1="85.55" y1="222.0" x2="468.7" y2="222.0"/><line x1="85.55" y1="285.8" x2="468.7" y2="285.8"/><line x1="85.55" y1="349.6" x2="468.7" y2="349.6"/></g>
<use href="#coast" stroke="#000" stroke-width="1.35" stroke-linejoin="round"/>
</g>
<text x="119.3" y="93.4" font-size="10.4" textLength="18.7" lengthAdjust="spacingAndGlyphs" fill="#000">45°N</text>
<text x="119.3" y="157.1" font-size="10.4" textLength="18.7" lengthAdjust="spacingAndGlyphs" fill="#000">40°N</text>
<text x="119.3" y="220.9" font-size="10.4" textLength="18.7" lengthAdjust="spacingAndGlyphs" fill="#000">35°N</text>
<text x="119.3" y="284.7" font-size="10.4" textLength="18.7" lengthAdjust="spacingAndGlyphs" fill="#000">30°N</text>
<text x="119.3" y="348.4" font-size="10.4" textLength="18.7" lengthAdjust="spacingAndGlyphs" fill="#000">25°N</text>
<text x="142.5" y="389.4" font-size="10.4" textLength="22.6" lengthAdjust="spacingAndGlyphs" fill="#000">125°E</text>
<text x="206.3" y="389.4" font-size="10.4" textLength="22.6" lengthAdjust="spacingAndGlyphs" fill="#000">130°E</text>
<text x="270.1" y="389.4" font-size="10.4" textLength="22.6" lengthAdjust="spacingAndGlyphs" fill="#000">135°E</text>
<text x="333.9" y="389.4" font-size="10.4" textLength="22.6" lengthAdjust="spacingAndGlyphs" fill="#000">140°E</text>
<text x="397.7" y="389.4" font-size="10.4" textLength="22.6" lengthAdjust="spacingAndGlyphs" fill="#000">145°E</text>
<rect x="85.55" y="31.5" width="383.15" height="382.55" fill="none" stroke="#000" stroke-width="1.15"/>
<g transform="translate(470.0 0)">
<g clip-path="url(#mc)">
<path d="M305.9 163.0 L306.7 154.1 L311.9 145.2 L314.1 139.3 L312.6 128.9 L316.3 123.0 L316.3 108.1 L322.2 100.7 L328.1 95.6 L335.6 94.1 L345.9 89.6 L354.8 89.2 L362.2 91.1 L371.1 94.8 L387.4 94.1 L394.8 92.6 L403.7 94.8 L412.6 96.3 L423.0 97.8 L430.4 102.2 L434.1 109.6 L434.8 124.4 L431.9 131.9 L430.4 137.8 L423.0 141.5 L415.6 145.9 L406.7 147.4 L397.8 148.1 L384.4 148.9 L378.5 152.6 L377.0 158.5 L384.1 161.9 L387.0 169.3 L386.3 182.6 L382.6 193.0 L376.7 198.9 L374.4 206.3 L373.7 216.7 L369.3 222.6 L364.8 230.0 L360.4 235.9 L348.5 240.1 L290.0 264.1 L285.6 268.5 L276.7 270.0 L260.4 273.0 L257.4 278.9 L255.9 286.3 L251.5 293.7 L248.5 299.6 L242.6 304.1 L238.1 310.0 L236.7 315.9 L233.7 320.1 L238.1 308.9 L235.2 314.8 L232.2 322.2 L226.3 328.1 L220.4 335.6 L215.9 341.5 L211.5 348.9 L205.6 354.8 L198.1 359.3 L190.7 360.7 L181.9 359.3 L173.0 360.7 L168.5 363.7 L167.0 369.6 L164.1 375.6 L158.1 382.2 L149.3 383.7 L133.0 383.7 L127.0 382.2 L121.1 378.5 L113.7 374.1 L109.3 368.1 L107.8 359.3 L108.5 347.4 L110.7 343.0 L115.2 337.0 L124.1 333.3 L131.5 331.1 L138.9 329.6 L144.8 332.6 L150.7 331.9 L155.2 327.4 L158.9 322.2 L159.6 316.3 L168.5 312.6 L174.4 308.9 L175.9 300.0 L175.9 304.1 L178.9 293.7 L187.8 284.8 L192.2 278.9 L195.2 274.4 L195.2 262.6 L190.7 258.1 L185.6 247.8 L186.3 230.0 L230.0 193.0 L238.9 188.5 L256.7 187.0 L268.5 183.3 L277.4 181.1 L290.7 177.4 L295.2 170.7 L305.6 161.9Z" fill="#ffe6ba"/>
<path d="M363.7 104.4 C364.9 103.6 367.7 102.2 369.6 102.2 C371.6 102.2 374.3 102.8 375.6 104.4 C376.8 106.0 377.2 109.5 377.0 111.9 C376.9 114.2 376.0 117.0 374.8 118.5 C373.6 120.0 371.7 120.2 369.6 120.7 C367.5 121.2 364.4 121.9 362.2 121.5 C360.0 121.1 358.1 119.5 356.3 118.5 C354.4 117.5 352.3 115.6 351.1 115.6 C349.9 115.6 350.2 117.8 348.9 118.5 C347.5 119.3 344.6 119.0 343.0 120.0 C341.4 121.0 340.1 124.0 339.3 124.4 C338.4 124.9 337.5 124.1 337.8 123.0 C338.0 121.9 339.4 119.3 340.7 117.8 C342.1 116.3 343.6 115.1 345.9 114.1 C348.3 113.1 352.6 112.5 354.8 111.9 C357.0 111.2 358.0 111.1 359.3 110.4 C360.5 109.6 361.5 108.4 362.2 107.4 C363.0 106.4 362.5 105.3 363.7 104.4Z" fill="#dcfcc8"/>
<path d="M403.7 114.8 C404.2 114.0 407.9 114.2 409.6 113.3 C411.4 112.5 412.6 110.7 414.1 109.6 C415.6 108.5 417.0 107.5 418.5 106.7 C420.0 105.8 421.2 104.7 423.0 104.4 C424.7 104.2 427.5 104.1 428.9 105.2 C430.2 106.3 430.6 107.9 431.1 111.1 C431.6 114.3 431.9 121.0 431.9 124.4 C431.9 127.9 431.9 130.1 431.1 131.9 C430.4 133.6 428.8 135.3 427.4 134.8 C426.0 134.3 424.4 130.6 423.0 128.9 C421.5 127.2 419.5 126.2 418.5 124.4 C417.5 122.7 418.0 119.8 417.0 118.5 C416.0 117.3 414.3 117.0 412.6 117.0 C410.9 117.0 408.1 118.9 406.7 118.5 C405.2 118.1 403.2 115.7 403.7 114.8Z" fill="#dcfcc8"/>
<path d="M348.9 151.1 C349.8 150.3 353.8 150.0 354.8 150.8 C355.9 151.6 356.0 155.0 355.1 155.9 C354.2 156.7 350.2 156.6 349.2 155.9 C348.1 155.1 348.0 152.0 348.9 151.1Z" fill="#dcfcc8"/>
<path d="M347.8 164.8 C349.9 164.4 353.8 163.3 355.2 164.1 C356.6 164.8 356.6 167.7 356.2 169.3 C355.9 170.9 354.2 172.6 353.0 173.7 C351.7 174.8 349.5 174.2 348.5 175.9 C347.5 177.7 348.0 181.7 347.0 184.1 C346.0 186.4 343.8 188.0 342.6 190.0 C341.4 192.0 341.1 194.2 339.6 195.9 C338.1 197.7 336.2 199.4 333.7 200.4 C331.2 201.4 327.5 201.7 324.8 201.9 C322.1 202.0 319.9 201.0 317.4 201.1 C314.9 201.2 312.2 201.6 310.0 202.6 C307.8 203.6 306.0 205.9 304.1 207.0 C302.1 208.1 299.6 207.9 298.1 209.3 C296.7 210.6 296.4 213.6 295.2 215.2 C294.0 216.8 293.2 217.9 290.7 218.9 C288.3 219.9 282.5 221.1 280.4 221.1 C278.3 221.1 278.1 220.1 278.1 218.9 C278.1 217.7 279.0 215.3 280.4 213.7 C281.7 212.1 284.8 210.5 286.3 209.3 C287.8 208.0 288.0 207.3 289.3 206.3 C290.5 205.3 292.0 204.3 293.7 203.3 C295.4 202.3 297.7 201.6 299.6 200.4 C301.6 199.1 303.3 197.2 305.6 195.9 C307.8 194.7 310.2 194.1 313.0 193.0 C315.7 191.9 319.4 190.7 321.9 189.3 C324.3 187.8 325.8 185.7 327.8 184.1 C329.8 182.5 332.0 181.6 333.7 179.6 C335.4 177.7 336.7 174.4 338.1 172.2 C339.6 170.0 341.0 167.5 342.6 166.3 C344.2 165.1 345.7 165.2 347.8 164.8Z" fill="#dcfcc8"/>
<path d="M329.0 189.1 L331.8 191.9 L329.0 194.7 L326.1 191.9Z" fill="#8cf5b4"/>
<path d="M319.3 193.6 L321.0 195.2 L319.3 196.8 L317.7 195.2Z" fill="#a0f8a8"/>
<path d="M351.5 165.9 L354.1 168.5 L351.5 171.2 L348.8 168.5Z" fill="#b0f8b0"/>
<path d="M210.0 297.4 C211.2 296.9 212.3 294.1 213.0 298.1 C213.6 302.2 217.0 317.9 213.7 321.9 C210.4 325.8 195.9 323.3 193.0 321.9 C190.0 320.4 194.6 315.4 195.9 313.0 C197.3 310.5 199.5 309.0 201.1 307.0 C202.7 305.1 204.1 302.7 205.6 301.1 C207.0 299.5 208.8 297.9 210.0 297.4Z" fill="#dcfcc8"/>
<path d="M110.7 343.0 C111.9 341.1 113.0 339.3 115.2 337.8 C117.4 336.3 121.4 335.1 124.1 334.1 C126.8 333.1 129.0 332.5 131.5 331.9 C134.0 331.2 136.7 330.2 138.9 330.4 C141.1 330.5 142.8 332.5 144.8 332.9 C146.8 333.3 149.5 331.7 150.7 332.6 C152.0 333.5 152.5 336.5 152.2 338.5 C152.0 340.5 149.5 342.5 149.3 344.4 C149.0 346.4 149.0 349.3 150.7 350.4 C152.5 351.5 156.9 350.7 159.6 351.1 C162.3 351.5 164.8 351.6 167.0 352.6 C169.3 353.6 171.6 355.8 173.0 357.0 C174.3 358.3 175.7 359.1 175.2 360.0 C174.7 360.9 171.2 361.1 170.0 362.2 C168.8 363.3 168.4 364.9 167.8 366.7 C167.2 368.4 167.2 370.9 166.3 372.6 C165.4 374.3 164.2 375.7 162.6 377.0 C161.0 378.4 158.9 379.8 156.7 380.7 C154.4 381.7 150.7 382.8 149.3 382.7 C147.8 382.5 150.2 380.8 147.8 380.0 C145.3 379.2 137.4 377.7 134.4 377.8 C131.5 377.9 131.7 380.4 130.0 380.7 C128.3 381.1 126.3 380.9 124.1 380.0 C121.9 379.1 118.9 377.3 116.7 375.6 C114.4 373.8 112.1 371.9 110.7 369.6 C109.4 367.4 108.9 365.7 108.5 362.2 C108.1 358.8 108.1 352.1 108.5 348.9 C108.9 345.7 109.6 344.8 110.7 343.0Z" fill="#dcfcc8"/>
<path d="M178.9 337.0 C180.2 336.0 182.8 334.6 184.8 333.3 C186.8 332.1 188.8 331.0 190.7 329.6 C192.7 328.3 194.7 327.2 196.7 325.2 C198.6 323.2 201.1 320.2 202.6 317.8 C204.1 315.3 204.6 312.8 205.6 310.4 C206.5 307.9 207.5 304.9 208.5 303.0 C209.5 301.0 210.6 297.8 211.5 298.5 C212.3 299.3 213.0 304.2 213.7 307.4 C214.4 310.6 216.0 315.3 215.9 317.8 C215.8 320.2 214.4 321.2 213.0 322.2 C211.5 323.2 209.0 322.5 207.0 323.7 C205.1 324.9 203.3 327.2 201.1 329.6 C198.9 332.1 196.4 336.9 193.7 338.5 C191.0 340.1 187.0 338.4 184.8 339.3 C182.6 340.1 181.7 343.1 180.4 343.7 C179.0 344.3 177.3 343.7 176.7 343.0 C176.0 342.2 176.3 340.2 176.7 339.3 C177.0 338.3 177.5 338.0 178.9 337.0Z" fill="#dcfcc8"/>
<ellipse cx="160.8" cy="367.7" rx="5.5" ry="2.6" fill="#98fb98" transform="rotate(-8 160.8 367.7)"/>
<path d="M108.5 357.0 C109.1 355.4 111.6 358.1 113.7 359.3 C115.8 360.4 119.0 362.2 121.1 363.7 C123.2 365.2 125.4 366.5 126.3 368.1 C127.2 369.8 127.0 372.1 126.3 373.3 C125.6 374.6 123.7 375.4 121.9 375.6 C120.0 375.7 117.2 375.2 115.2 374.1 C113.2 373.0 111.1 371.7 110.0 368.9 C108.9 366.0 107.9 358.6 108.5 357.0Z" fill="#98fb98"/>
<path d="M108.5 360.0 C109.1 359.1 110.6 359.9 112.2 360.7 C113.8 361.6 116.5 363.8 118.1 365.2 C119.8 366.5 121.4 367.7 121.9 368.9 C122.3 370.1 122.0 371.9 121.1 372.6 C120.2 373.3 118.1 373.6 116.7 373.3 C115.2 373.1 113.6 372.3 112.2 371.1 C110.9 369.9 109.1 367.8 108.5 365.9 C107.9 364.1 107.9 360.9 108.5 360.0Z" fill="#66ffff"/>
<path d="M109.0 362.2 C109.5 361.6 111.9 362.8 113.0 363.7 C114.0 364.6 115.2 366.4 115.2 367.4 C115.2 368.4 113.8 369.6 113.0 369.6 C112.1 369.6 110.7 368.6 110.0 367.4 C109.3 366.2 108.5 362.8 109.0 362.2Z" fill="#00ccff"/>
<ellipse cx="112.2" cy="367.4" rx="1.3" ry="1.6" fill="#0066ff" transform="rotate(0 112.2 367.4)"/>
<ellipse cx="111.5" cy="348.9" rx="2.5" ry="3.0" fill="#98fb98" transform="rotate(0 111.5 348.9)"/>
<g transform="translate(-0.80 0)"><g stroke="#000" stroke-opacity="0.32" stroke-width="0.8" fill="none"><line x1="149.3" y1="31.5" x2="149.3" y2="414.05"/><line x1="213.1" y1="31.5" x2="213.1" y2="414.05"/><line x1="276.9" y1="31.5" x2="276.9" y2="414.05"/><line x1="340.7" y1="31.5" x2="340.7" y2="414.05"/><line x1="404.5" y1="31.5" x2="404.5" y2="414.05"/><line x1="85.55" y1="94.5" x2="468.7" y2="94.5"/><line x1="85.55" y1="158.2" x2="468.7" y2="158.2"/><line x1="85.55" y1="222.0" x2="468.7" y2="222.0"/><line x1="85.55" y1="285.8" x2="468.7" y2="285.8"/><line x1="85.55" y1="349.6" x2="468.7" y2="349.6"/></g>
<use href="#coast" stroke="#000" stroke-width="1.35" stroke-linejoin="round"/>
</g></g>
<text x="119.3" y="93.4" font-size="10.4" textLength="18.7" lengthAdjust="spacingAndGlyphs" fill="#000">45°N</text>
<text x="119.3" y="157.1" font-size="10.4" textLength="18.7" lengthAdjust="spacingAndGlyphs" fill="#000">40°N</text>
<text x="119.3" y="220.9" font-size="10.4" textLength="18.7" lengthAdjust="spacingAndGlyphs" fill="#000">35°N</text>
<text x="119.3" y="284.7" font-size="10.4" textLength="18.7" lengthAdjust="spacingAndGlyphs" fill="#000">30°N</text>
<text x="119.3" y="348.4" font-size="10.4" textLength="18.7" lengthAdjust="spacingAndGlyphs" fill="#000">25°N</text>
<text x="141.3" y="389.4" font-size="10.4" textLength="22.6" lengthAdjust="spacingAndGlyphs" fill="#000">125°E</text>
<text x="205.1" y="389.4" font-size="10.4" textLength="22.6" lengthAdjust="spacingAndGlyphs" fill="#000">130°E</text>
<text x="268.9" y="389.4" font-size="10.4" textLength="22.6" lengthAdjust="spacingAndGlyphs" fill="#000">135°E</text>
<rect x="85.55" y="31.5" width="383.15" height="382.55" fill="none" stroke="#000" stroke-width="1.15"/>
</g>
<text x="138.3" y="25.8" font-size="12.4" textLength="109.8" lengthAdjust="spacingAndGlyphs" fill="#000">GSMAP_MWR_1HR</text>
<text x="252.2" y="25.8" font-size="12.4" textLength="57.8" lengthAdjust="spacingAndGlyphs" fill="#000">estimates</text>
<text x="314.7" y="25.8" font-size="12.4" textLength="15.9" lengthAdjust="spacingAndGlyphs" fill="#000">for</text>
<text x="336.1" y="25.8" font-size="12.4" textLength="59.2" lengthAdjust="spacingAndGlyphs" fill="#000">20260228</text>
<text x="400.8" y="25.8" font-size="12.4" textLength="13.9" lengthAdjust="spacingAndGlyphs" fill="#000">08</text>
<text x="600.6" y="25.8" font-size="12.4" textLength="38.3" lengthAdjust="spacingAndGlyphs" fill="#000">Hourly</text>
<text x="644.2" y="25.8" font-size="12.4" textLength="88.9" lengthAdjust="spacingAndGlyphs" fill="#000">Radar-AMeDAS</text>
<text x="738.6" y="25.8" font-size="12.4" textLength="48.1" lengthAdjust="spacingAndGlyphs" fill="#000">analysis</text>
<text x="791.7" y="25.8" font-size="12.4" textLength="15.8" lengthAdjust="spacingAndGlyphs" fill="#000">for</text>
<text x="813.1" y="25.8" font-size="12.4" textLength="59.1" lengthAdjust="spacingAndGlyphs" fill="#000">20260228</text>
<text x="877.5" y="25.8" font-size="12.4" textLength="13.9" lengthAdjust="spacingAndGlyphs" fill="#000">08</text>
<text x="479.0" y="415.0" font-size="9.5" textLength="37.7" lengthAdjust="spacingAndGlyphs" transform="rotate(-90 479.0 415.0)" fill="#000">DMSP-F16</text>
<text x="489.0" y="415.4" font-size="9.5" textLength="22.3" lengthAdjust="spacingAndGlyphs" transform="rotate(-90 489.0 415.4)" fill="#000">SSMIS</text>
<text x="561.4" y="406.1" font-size="10" textLength="103.1" lengthAdjust="spacingAndGlyphs" fill="#000">Provided by JWA/JMA</text>
<rect x="972.2" y="377.14" width="21.6" height="36.76" fill="#ffe6ba"/>
<rect x="972.2" y="340.68" width="21.6" height="36.76" fill="#dcfcc8"/>
<rect x="972.2" y="304.22" width="21.6" height="36.76" fill="#98fb98"/>
<rect x="972.2" y="267.76" width="21.6" height="36.76" fill="#66ffff"/>
<rect x="972.2" y="231.30" width="21.6" height="36.76" fill="#00ccff"/>
<rect x="972.2" y="194.84" width="21.6" height="36.76" fill="#0066ff"/>
<rect x="972.2" y="158.38" width="21.6" height="36.76" fill="#9966ff"/>
<rect x="972.2" y="121.92" width="21.6" height="36.76" fill="#e066ff"/>
<rect x="972.2" y="85.46" width="21.6" height="36.76" fill="#ff00ff"/>
<rect x="972.2" y="49.00" width="21.6" height="36.76" fill="#d19b44"/>
<path d="M972.2 49.0 L983.0 30.5 L993.8 49.0Z" fill="#000"/>
<path d="M972.2 49.0 L972.2 413.6 L993.8 413.6 L993.8 49.0" fill="none" stroke="#000" stroke-width="0.8"/>
<line x1="994.0999999999999" y1="413.6" x2="997.6999999999999" y2="413.6" stroke="#000" stroke-width="0.8"/>
<text x="1001.6" y="418.2" font-size="12.4" fill="#000">0</text>
<line x1="994.0999999999999" y1="377.1" x2="997.6999999999999" y2="377.1" stroke="#000" stroke-width="0.8"/>
<text x="1001.6" y="381.7" font-size="12.4" fill="#000">0.01</text>
<line x1="994.0999999999999" y1="340.7" x2="997.6999999999999" y2="340.7" stroke="#000" stroke-width="0.8"/>
<text x="1001.6" y="345.3" font-size="12.4" fill="#000">0.5</text>
<line x1="994.0999999999999" y1="304.2" x2="997.6999999999999" y2="304.2" stroke="#000" stroke-width="0.8"/>
<text x="1001.6" y="308.8" font-size="12.4" fill="#000">1</text>
<line x1="994.0999999999999" y1="267.8" x2="997.6999999999999" y2="267.8" stroke="#000" stroke-width="0.8"/>
<text x="1001.6" y="272.4" font-size="12.4" fill="#000">2</text>
<line x1="994.0999999999999" y1="231.3" x2="997.6999999999999" y2="231.3" stroke="#000" stroke-width="0.8"/>
<text x="1001.6" y="235.9" font-size="12.4" fill="#000">3</text>
<line x1="994.0999999999999" y1="194.8" x2="997.6999999999999" y2="194.8" stroke="#000" stroke-width="0.8"/>
<text x="1001.6" y="199.4" font-size="12.4" fill="#000">4</text>
<line x1="994.0999999999999" y1="158.4" x2="997.6999999999999" y2="158.4" stroke="#000" stroke-width="0.8"/>
<text x="1001.6" y="163.0" font-size="12.4" fill="#000">5</text>
<line x1="994.0999999999999" y1="121.9" x2="997.6999999999999" y2="121.9" stroke="#000" stroke-width="0.8"/>
<text x="1001.6" y="126.5" font-size="12.4" fill="#000">10</text>
<line x1="994.0999999999999" y1="85.5" x2="997.6999999999999" y2="85.5" stroke="#000" stroke-width="0.8"/>
<text x="1001.6" y="90.1" font-size="12.4" fill="#000">25</text>
<line x1="994.0999999999999" y1="49.0" x2="997.6999999999999" y2="49.0" stroke="#000" stroke-width="0.8"/>
<text x="1001.6" y="53.6" font-size="12.4" fill="#000">50</text>
<rect x="810.5" y="271.0" width="104.70000000000005" height="103.69999999999999" fill="#fff" stroke="#000" stroke-width="0.8"/>
<line x1="810.5" y1="374.7" x2="915.2" y2="271.0" stroke="#000" stroke-width="0.9"/>
<line x1="810.5" y1="374.7" x2="810.5" y2="378.2" stroke="#000" stroke-width="0.8"/>
<line x1="810.5" y1="374.7" x2="807.0" y2="374.7" stroke="#000" stroke-width="0.8"/>
<text x="810.5" y="389.1" font-size="9.6" text-anchor="middle" fill="#000">0</text>
<text x="805.5" y="378.0" font-size="9.6" text-anchor="end" fill="#000">0</text>
<line x1="831.4" y1="374.7" x2="831.4" y2="378.2" stroke="#000" stroke-width="0.8"/>
<line x1="810.5" y1="354.0" x2="807.0" y2="354.0" stroke="#000" stroke-width="0.8"/>
<text x="831.4" y="389.1" font-size="9.6" text-anchor="middle" fill="#000">2</text>
<text x="805.5" y="357.3" font-size="9.6" text-anchor="end" fill="#000">2</text>
<line x1="852.4" y1="374.7" x2="852.4" y2="378.2" stroke="#000" stroke-width="0.8"/>
<line x1="810.5" y1="333.2" x2="807.0" y2="333.2" stroke="#000" stroke-width="0.8"/>
<text x="852.4" y="389.1" font-size="9.6" text-anchor="middle" fill="#000">4</text>
<text x="805.5" y="336.5" font-size="9.6" text-anchor="end" fill="#000">4</text>
<line x1="873.3" y1="374.7" x2="873.3" y2="378.2" stroke="#000" stroke-width="0.8"/>
<line x1="810.5" y1="312.5" x2="807.0" y2="312.5" stroke="#000" stroke-width="0.8"/>
<text x="873.3" y="389.1" font-size="9.6" text-anchor="middle" fill="#000">6</text>
<text x="805.5" y="315.8" font-size="9.6" text-anchor="end" fill="#000">6</text>
<line x1="894.3" y1="374.7" x2="894.3" y2="378.2" stroke="#000" stroke-width="0.8"/>
<line x1="810.5" y1="291.7" x2="807.0" y2="291.7" stroke="#000" stroke-width="0.8"/>
<text x="894.3" y="389.1" font-size="9.6" text-anchor="middle" fill="#000">8</text>
<text x="805.5" y="295.0" font-size="9.6" text-anchor="end" fill="#000">8</text>
<line x1="915.2" y1="374.7" x2="915.2" y2="378.2" stroke="#000" stroke-width="0.8"/>
<line x1="810.5" y1="271.0" x2="807.0" y2="271.0" stroke="#000" stroke-width="0.8"/>
<text x="915.2" y="389.1" font-size="9.6" text-anchor="middle" fill="#000">10</text>
<text x="805.5" y="274.3" font-size="9.6" text-anchor="end" fill="#000">10</text>
<line x1="815.7" y1="374.7" x2="815.7" y2="376.7" stroke="#000" stroke-width="0.6"/><line x1="810.5" y1="369.5" x2="808.5" y2="369.5" stroke="#000" stroke-width="0.6"/>
<line x1="821.0" y1="374.7" x2="821.0" y2="376.7" stroke="#000" stroke-width="0.6"/><line x1="810.5" y1="364.3" x2="808.5" y2="364.3" stroke="#000" stroke-width="0.6"/>
<line x1="826.2" y1="374.7" x2="826.2" y2="376.7" stroke="#000" stroke-width="0.6"/><line x1="810.5" y1="359.1" x2="808.5" y2="359.1" stroke="#000" stroke-width="0.6"/>
<line x1="836.7" y1="374.7" x2="836.7" y2="376.7" stroke="#000" stroke-width="0.6"/><line x1="810.5" y1="348.8" x2="808.5" y2="348.8" stroke="#000" stroke-width="0.6"/>
<line x1="841.9" y1="374.7" x2="841.9" y2="376.7" stroke="#000" stroke-width="0.6"/><line x1="810.5" y1="343.6" x2="808.5" y2="343.6" stroke="#000" stroke-width="0.6"/>
<line x1="847.1" y1="374.7" x2="847.1" y2="376.7" stroke="#000" stroke-width="0.6"/><line x1="810.5" y1="338.4" x2="808.5" y2="338.4" stroke="#000" stroke-width="0.6"/>
<line x1="857.6" y1="374.7" x2="857.6" y2="376.7" stroke="#000" stroke-width="0.6"/><line x1="810.5" y1="328.0" x2="808.5" y2="328.0" stroke="#000" stroke-width="0.6"/>
<line x1="862.9" y1="374.7" x2="862.9" y2="376.7" stroke="#000" stroke-width="0.6"/><line x1="810.5" y1="322.8" x2="808.5" y2="322.8" stroke="#000" stroke-width="0.6"/>
<line x1="868.1" y1="374.7" x2="868.1" y2="376.7" stroke="#000" stroke-width="0.6"/><line x1="810.5" y1="317.7" x2="808.5" y2="317.7" stroke="#000" stroke-width="0.6"/>
<line x1="878.6" y1="374.7" x2="878.6" y2="376.7" stroke="#000" stroke-width="0.6"/><line x1="810.5" y1="307.3" x2="808.5" y2="307.3" stroke="#000" stroke-width="0.6"/>
<line x1="883.8" y1="374.7" x2="883.8" y2="376.7" stroke="#000" stroke-width="0.6"/><line x1="810.5" y1="302.1" x2="808.5" y2="302.1" stroke="#000" stroke-width="0.6"/>
<line x1="889.0" y1="374.7" x2="889.0" y2="376.7" stroke="#000" stroke-width="0.6"/><line x1="810.5" y1="296.9" x2="808.5" y2="296.9" stroke="#000" stroke-width="0.6"/>
<line x1="899.5" y1="374.7" x2="899.5" y2="376.7" stroke="#000" stroke-width="0.6"/><line x1="810.5" y1="286.6" x2="808.5" y2="286.6" stroke="#000" stroke-width="0.6"/>
<line x1="904.7" y1="374.7" x2="904.7" y2="376.7" stroke="#000" stroke-width="0.6"/><line x1="810.5" y1="281.4" x2="808.5" y2="281.4" stroke="#000" stroke-width="0.6"/>
<line x1="910.0" y1="374.7" x2="910.0" y2="376.7" stroke="#000" stroke-width="0.6"/><line x1="810.5" y1="276.2" x2="808.5" y2="276.2" stroke="#000" stroke-width="0.6"/>
<text x="838.2" y="398.5" font-size="10.3" textLength="46.6" lengthAdjust="spacingAndGlyphs" fill="#000">ANALYSIS</text>
<text x="791.4" y="369.8" font-size="10.3" textLength="90.2" lengthAdjust="spacingAndGlyphs" transform="rotate(-90 791.4 369.8)" fill="#000">GSMAP_MWR_1HR</text>
<g fill="#000" stroke="#000" stroke-width="0.5"><path d="M810.5 374.7 L814.9 374.7 L814.3 371.6 L812.6 367.4 L811.5 364.8 L810.5 364.3Z"/><path d="M817.9 374.2h2M818.9 373.2v2" fill="none" stroke-width="0.6"/><path d="M823.1 373.7h2M824.1 372.7v2" fill="none" stroke-width="0.6"/><path d="M810.5 351.9h2M811.5 350.9v2" fill="none" stroke-width="0.6"/><path d="M810.8 340.5h2M811.8 339.5v2" fill="none" stroke-width="0.6"/><path d="M814.7 366.4h2M815.7 365.4v2" fill="none" stroke-width="0.6"/><path d="M813.2 363.3h2M814.2 362.3v2" fill="none" stroke-width="0.6"/><path d="M811.6 358.1h2M812.6 357.1v2" fill="none" stroke-width="0.6"/></g>
<text x="68.6" y="447.0" font-size="10" textLength="143.1" lengthAdjust="spacingAndGlyphs" fill="#000">Hourly fraction by occurence</text>
<text x="47.7" y="465.9" font-size="10" textLength="14.3" lengthAdjust="spacingAndGlyphs" fill="#000">Est</text>
<text x="47.7" y="492.8" font-size="10" textLength="18.1" lengthAdjust="spacingAndGlyphs" fill="#000">Obs</text>
<text x="58.0" y="510.0" font-size="10" textLength="14.9" lengthAdjust="spacingAndGlyphs" fill="#000">0%</text>
<text x="102.1" y="510.0" font-size="10" textLength="67.2" lengthAdjust="spacingAndGlyphs" fill="#000">Areal fraction</text>
<text x="194.6" y="509.6" font-size="10" textLength="26.9" lengthAdjust="spacingAndGlyphs" fill="#000">100%</text>
<text x="72.3" y="527.4" font-size="10" textLength="135.1" lengthAdjust="spacingAndGlyphs" fill="#000">Hourly fraction of total rain</text>
<text x="47.7" y="546.9" font-size="10" textLength="14.3" lengthAdjust="spacingAndGlyphs" fill="#000">Est</text>
<text x="47.7" y="573.8" font-size="10" textLength="18.1" lengthAdjust="spacingAndGlyphs" fill="#000">Obs</text>
<text x="58.6" y="589.5" font-size="10" textLength="164.5" lengthAdjust="spacingAndGlyphs" fill="#000">Rainfall accumulation by amount</text>
<rect x="74.4" y="452.3" width="126.0" height="18.4" fill="#ffe6ba" stroke="#000" stroke-width="0.6"/>
<rect x="200.4" y="452.3" width="4.8" height="18.4" fill="#dcfcc8" stroke="#000" stroke-width="0.6"/>
<rect x="205.2" y="452.3" width="0.8" height="18.4" fill="#98fb98" stroke="#000" stroke-width="0.6"/>
<rect x="206.0" y="452.3" width="0.5" height="18.4" fill="#0066ff" stroke="#000" stroke-width="0.6"/>
<rect x="206.5" y="452.3" width="0.9" height="18.4" fill="#000" stroke="#000" stroke-width="0.6"/>
<rect x="74.4" y="479.3" width="120.9" height="18.2" fill="#ffe6ba" stroke="#000" stroke-width="0.6"/>
<rect x="195.3" y="479.3" width="10.9" height="18.2" fill="#dcfcc8" stroke="#000" stroke-width="0.6"/>
<rect x="206.2" y="479.3" width="1.2" height="18.2" fill="#000" stroke="#000" stroke-width="0.6"/>
<g stroke="#000" stroke-width="0.5"><line x1="200.4" y1="470.7" x2="195.3" y2="479.3"/><line x1="205.2" y1="470.7" x2="206.2" y2="479.3"/><line x1="207.2" y1="470.7" x2="207.2" y2="479.3"/><line x1="207.3" y1="452.3" x2="207.3" y2="497.5" stroke-width="1.2"/></g>
<rect x="74.4" y="533.2" width="4.9" height="17.9" fill="#ffe6ba" stroke="#000" stroke-width="0.6"/>
<rect x="79.3" y="533.2" width="28.1" height="17.9" fill="#dcfcc8" stroke="#000" stroke-width="0.6"/>
<rect x="107.4" y="533.2" width="17.9" height="17.9" fill="#98fb98" stroke="#000" stroke-width="0.6"/>
<rect x="125.3" y="533.2" width="16.0" height="17.9" fill="#66ffff" stroke="#000" stroke-width="0.6"/>
<rect x="141.3" y="533.2" width="17.1" height="17.9" fill="#00ccff" stroke="#000" stroke-width="0.6"/>
<rect x="158.4" y="532.9" width="49" height="18.5" fill="#0066ff"/><line x1="207.3" y1="533" x2="207.3" y2="551.5" stroke="#013" stroke-width="0.8"/>
<rect x="74.4" y="560.3" width="4.9" height="18.1" fill="#ffe6ba" stroke="#000" stroke-width="0.6"/>
<rect x="79.3" y="560.3" width="49.3" height="18.1" fill="#dcfcc8" stroke="#000" stroke-width="0.6"/>
<rect x="128.6" y="560.3" width="2.5" height="18.1" fill="#98fb98" stroke="#000" stroke-width="0.6"/>
<rect x="131.1" y="560.3" width="4.2" height="18.1" fill="#66ffff" stroke="#000" stroke-width="0.6"/>
<g stroke="#000" stroke-width="0.5"><line x1="74.4" y1="551.1" x2="74.4" y2="560.3"/><line x1="79.3" y1="551.1" x2="79.3" y2="560.3"/><line x1="107.4" y1="551.1" x2="128.6" y2="560.3"/><line x1="125.3" y1="551.1" x2="131.1" y2="560.3"/><line x1="141.3" y1="551.1" x2="135.3" y2="560.3"/><line x1="158.4" y1="551.1" x2="135.3" y2="560.3"/></g>
<path d="M207.4 550.2 L135.3 560.3 L207.4 552.2Z" fill="#000" stroke="#000" stroke-width="0.6"/>
<text x="294.1" y="454.7" font-size="10" textLength="89.8" lengthAdjust="spacingAndGlyphs" fill="#000">GSMAP_MWR_1HR</text>
<text x="293.3" y="469.7" font-size="10" textLength="29.6" lengthAdjust="spacingAndGlyphs" fill="#000">&lt;0.01</text>
<text x="355.8" y="469.7" font-size="10" textLength="28.1" lengthAdjust="spacingAndGlyphs" fill="#000">≥0.01</text>
<text x="246.0" y="520.5" font-size="10" text-anchor="middle" textLength="47.0" lengthAdjust="spacingAndGlyphs" transform="rotate(-90 246.0 520.5)" fill="#000">ANALYSIS</text>
<text x="245.7" y="505.9" font-size="10" textLength="29.4" lengthAdjust="spacingAndGlyphs" fill="#000">&lt;0.01</text>
<text x="245.7" y="552.7" font-size="10" textLength="28.6" lengthAdjust="spacingAndGlyphs" fill="#000">≥0.01</text>
<text x="296.3" y="505.9" font-size="10" textLength="23.6" lengthAdjust="spacingAndGlyphs" fill="#000">1343</text>
<text x="368.0" y="505.9" font-size="10" textLength="6.3" lengthAdjust="spacingAndGlyphs" fill="#000">9</text>
<text x="305.4" y="552.7" font-size="10" fill="#000">1</text>
<text x="368.0" y="552.7" font-size="10" textLength="6.3" lengthAdjust="spacingAndGlyphs" fill="#000">0</text>
<g stroke="#000" stroke-width="1.1" fill="none"><rect x="277.3" y="478.3" width="124.1" height="94.9"/><line x1="339.4" y1="478.3" x2="339.4" y2="573.2"/><line x1="277.3" y1="526.1" x2="401.4" y2="526.1"/></g>
<text x="460.2" y="454.0" font-size="10.3" textLength="49.2" lengthAdjust="spacingAndGlyphs" fill="#000">Validation</text>
<text x="513.7" y="454.0" font-size="10.3" textLength="44.0" lengthAdjust="spacingAndGlyphs" fill="#000">statistics</text>
<text x="561.6" y="454.0" font-size="10.3" textLength="12.4" lengthAdjust="spacingAndGlyphs" fill="#000">for</text>
<text x="578.5" y="454.0" font-size="10.3" textLength="49.6" lengthAdjust="spacingAndGlyphs" fill="#000">20260228</text>
<text x="632.3" y="454.0" font-size="10.3" textLength="11.7" lengthAdjust="spacingAndGlyphs" fill="#000">08</text>
<text x="651.0" y="454.0" font-size="10.3" textLength="39.6" lengthAdjust="spacingAndGlyphs" fill="#000">n=1353</text>
<text x="694.5" y="454.0" font-size="10.3" textLength="26.2" lengthAdjust="spacingAndGlyphs" fill="#000">Valid.</text>
<text x="725.4" y="454.0" font-size="10.3" textLength="53.7" lengthAdjust="spacingAndGlyphs" fill="#000">grid=0.25˚</text>
<text x="784.3" y="454.0" font-size="10.3" textLength="69.0" lengthAdjust="spacingAndGlyphs" fill="#000">Units=mm/hr.</text>
<g stroke="#000" stroke-width="0.9" stroke-dasharray="3.6 1.5"><line x1="457.2" y1="457.4" x2="997" y2="457.4"/><line x1="457.2" y1="480.3" x2="758" y2="480.3"/></g>
<text x="608.9" y="474.7" font-size="10" textLength="46.7" lengthAdjust="spacingAndGlyphs" fill="#000">ANALYSIS</text>
<text x="667.9" y="474.7" font-size="10" textLength="90.1" lengthAdjust="spacingAndGlyphs" fill="#000">GSMAP_MWR_1HR</text>
<text x="460.1" y="498.7" font-size="10.3" textLength="127.4" lengthAdjust="spacingAndGlyphs" fill="#000">Num of gridpoints raining</text>
<text x="648.6" y="498.7" font-size="10.3" text-anchor="end" fill="#000">1</text>
<text x="729.3" y="498.7" font-size="10.3" text-anchor="end" fill="#000">9</text>
<text x="460.1" y="518.5" font-size="10.3" textLength="63.8" lengthAdjust="spacingAndGlyphs" fill="#000">Average rain</text>
<text x="648.6" y="518.5" font-size="10.3" text-anchor="end" fill="#000">0.0</text>
<text x="729.3" y="518.5" font-size="10.3" text-anchor="end" fill="#000">0.0</text>
<text x="460.1" y="538.3" font-size="10.3" textLength="78.5" lengthAdjust="spacingAndGlyphs" fill="#000">Conditional rain</text>
<text x="648.6" y="538.3" font-size="10.3" text-anchor="end" fill="#000">16.2</text>
<text x="729.3" y="538.3" font-size="10.3" text-anchor="end" fill="#000">4.1</text>
<text x="461.3" y="557.9" font-size="10.3" textLength="132.9" lengthAdjust="spacingAndGlyphs" fill="#000">Rain volume (mm km<tspan dy="-3.6" font-size="7">2</tspan><tspan dy="3.6">10</tspan><tspan dy="-3.6" font-size="7">6</tspan><tspan dy="3.6">)</tspan></text>
<text x="648.6" y="557.9" font-size="10.3" text-anchor="end" fill="#000">0.0</text>
<text x="729.3" y="557.9" font-size="10.3" text-anchor="end" fill="#000">0.0</text>
<text x="460.1" y="577.5" font-size="10.3" textLength="71.2" lengthAdjust="spacingAndGlyphs" fill="#000">Maximum rain</text>
<text x="648.6" y="577.5" font-size="10.3" text-anchor="end" fill="#000">1.2</text>
<text x="729.3" y="577.5" font-size="10.3" text-anchor="end" fill="#000">4.0</text>
<text x="784.5" y="471.6" font-size="10.3" textLength="114.4" lengthAdjust="spacingAndGlyphs" fill="#000" xml:space="preserve">Mean abs error =    0.0</text>
<text x="784.5" y="488.7" font-size="10.3" textLength="88.3" lengthAdjust="spacingAndGlyphs" fill="#000" xml:space="preserve">RMS error =    0.2</text>
<text x="784.5" y="505.8" font-size="10.3" textLength="128.9" lengthAdjust="spacingAndGlyphs" fill="#000" xml:space="preserve">Correlation coeff =  0.028</text>
<text x="784.5" y="522.8" font-size="10.3" textLength="121.5" lengthAdjust="spacingAndGlyphs" fill="#000" xml:space="preserve">Frequency bias =  9.000</text>
<text x="784.5" y="539.8" font-size="10.3" textLength="161.5" lengthAdjust="spacingAndGlyphs" fill="#000" xml:space="preserve">Probability of detection =  0.000</text>
<text x="784.5" y="556.9" font-size="10.3" textLength="129.8" lengthAdjust="spacingAndGlyphs" fill="#000" xml:space="preserve">False alarm ratio =  1.000</text>
<text x="784.5" y="573.9" font-size="10.3" textLength="170.4" lengthAdjust="spacingAndGlyphs" fill="#000" xml:space="preserve">Hanssen &amp; Kuipers score = -0.007</text>
<text x="784.5" y="590.9" font-size="10.3" textLength="156.4" lengthAdjust="spacingAndGlyphs" fill="#000" xml:space="preserve">Equitable threat score = -0.001</text>
</svg>
</body></html>
